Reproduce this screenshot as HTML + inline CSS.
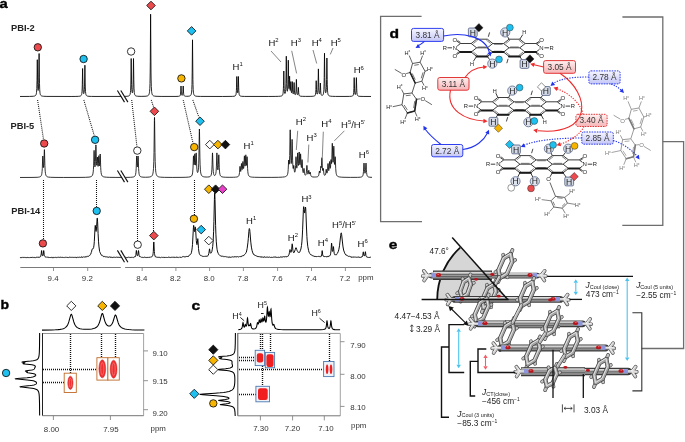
<!DOCTYPE html>
<html><head><meta charset="utf-8"><style>html,body{margin:0;padding:0;background:#fff;width:685px;height:442px;overflow:hidden}svg{display:block;will-change:transform}</style></head>
<body><svg width="685" height="442" viewBox="0 0 685 442" font-family="'Liberation Sans', sans-serif">
<defs>
<linearGradient id="gb" x1="0" y1="0" x2="0" y2="1"><stop offset="0" stop-color="#f6f6ff"/><stop offset="1" stop-color="#c4c6f6"/></linearGradient>
<linearGradient id="gr" x1="0" y1="0" x2="0" y2="1"><stop offset="0" stop-color="#fff0f0"/><stop offset="1" stop-color="#f6b4b6"/></linearGradient>
</defs>
<rect width="685" height="442" fill="#fff"/>
<text transform="translate(-0.6,8.4) scale(1.12,1)" font-size="13.2" font-weight="bold" fill="#000" stroke="#000" stroke-width="0.35">a</text>
<text x="11" y="31.2" font-size="9.3" font-weight="bold" fill="#222">PBI-2</text>
<text x="10.5" y="128.6" font-size="9.3" font-weight="bold" fill="#222">PBI-5</text>
<text x="11.3" y="214.0" font-size="9.3" font-weight="bold" fill="#222">PBI-14</text>
<path d="M20.00,96.48 L29.50,96.43 L33.30,96.26 L34.40,96.08 L35.10,95.82 L35.60,95.44 L36.00,94.82 L36.30,93.86 L36.50,92.65 L36.80,88.32 L37.00,80.45 L37.30,59.70 L37.70,84.42 L37.90,88.92 L38.00,89.90 L38.10,90.39 L38.20,90.47 L38.30,90.18 L38.40,89.47 L38.50,88.20 L38.70,82.75 L39.10,53.50 L39.40,77.83 L39.50,83.45 L39.70,89.40 L39.90,92.10 L40.10,93.51 L40.30,94.33 L40.50,94.85 L40.80,95.33 L41.20,95.70 L41.70,95.95 L42.40,96.14 L43.40,96.28 L46.90,96.42 L71.10,96.47 L75.90,96.43 L78.50,96.33 L79.90,96.16 L80.40,96.01 L80.80,95.80 L81.10,95.54 L81.30,95.27 L81.60,94.55 L81.80,93.64 L82.00,91.88 L82.20,88.01 L82.30,84.35 L82.60,68.50 L82.90,84.14 L83.10,89.99 L83.30,92.35 L83.40,92.95 L83.60,93.56 L83.70,93.64 L83.80,93.62 L83.90,93.47 L84.10,92.73 L84.20,92.03 L84.40,89.34 L84.50,86.79 L84.90,65.20 L85.20,82.95 L85.30,87.05 L85.50,91.38 L85.70,93.34 L85.90,94.36 L86.20,95.16 L86.40,95.46 L86.70,95.75 L87.10,95.97 L87.60,96.13 L89.00,96.32 L91.40,96.42 L96.00,96.46 L123.40,96.42 L127.10,96.27 L128.10,96.14 L128.80,95.93 L129.30,95.65 L129.60,95.35 L129.90,94.84 L130.10,94.28 L130.40,92.64 L130.60,90.25 L130.80,85.00 L130.90,80.02 L131.20,58.50 L131.60,84.65 L131.80,89.69 L132.00,91.80 L132.20,92.66 L132.30,92.81 L132.40,92.81 L132.50,92.66 L132.70,91.80 L132.90,89.69 L133.00,87.73 L133.20,79.77 L133.50,58.50 L133.80,80.02 L134.00,88.17 L134.30,92.63 L134.50,93.87 L134.70,94.59 L135.10,95.34 L135.60,95.77 L136.40,96.07 L137.70,96.26 L141.10,96.36 L145.00,96.29 L146.90,96.07 L147.50,95.90 L148.00,95.66 L148.50,95.23 L148.90,94.59 L149.20,93.73 L149.40,92.79 L149.60,91.27 L149.80,88.62 L150.00,83.47 L150.20,72.04 L150.30,61.19 L150.60,14.20 L151.00,72.04 L151.10,78.97 L151.30,86.50 L151.60,91.27 L151.80,92.79 L152.00,93.74 L152.30,94.60 L152.60,95.11 L153.10,95.60 L153.70,95.91 L154.60,96.14 L156.00,96.29 L161.10,96.43 L176.00,96.43 L178.30,96.34 L179.40,96.15 L179.80,95.94 L180.10,95.60 L180.30,95.13 L180.50,94.17 L180.70,91.93 L181.00,86.00 L181.40,93.18 L181.60,94.56 L181.70,94.90 L181.90,95.26 L182.00,95.34 L182.20,95.34 L182.40,95.12 L182.60,94.56 L182.70,94.02 L182.90,91.84 L183.20,86.00 L183.60,93.28 L183.80,94.72 L184.00,95.38 L184.20,95.71 L184.40,95.91 L184.70,96.08 L185.40,96.24 L186.70,96.30 L188.20,96.24 L189.20,96.11 L189.90,95.91 L190.40,95.61 L190.80,95.18 L191.10,94.58 L191.30,93.93 L191.60,92.11 L191.80,89.60 L192.00,84.41 L192.20,72.17 L192.50,39.80 L192.90,79.65 L193.00,84.42 L193.20,89.61 L193.40,92.11 L193.60,93.48 L193.80,94.30 L194.10,95.02 L194.40,95.44 L194.80,95.77 L195.40,96.03 L196.10,96.19 L197.10,96.31 L200.30,96.42 L222.70,96.48 L232.30,96.39 L234.00,96.26 L235.00,95.98 L235.50,95.59 L235.80,95.06 L236.00,94.40 L236.20,93.14 L236.40,90.38 L236.50,87.77 L236.80,76.50 L237.10,87.38 L237.20,89.83 L237.40,92.18 L237.50,92.63 L237.60,92.77 L237.70,92.63 L237.90,91.31 L238.00,89.83 L238.40,76.50 L238.70,87.77 L238.80,90.38 L239.00,93.14 L239.20,94.40 L239.40,95.06 L239.80,95.69 L240.30,96.02 L240.90,96.20 L241.70,96.31 L244.70,96.43 L268.80,96.46 L275.10,96.42 L278.60,96.33 L280.60,96.17 L281.70,95.89 L282.30,95.48 L282.70,94.83 L283.00,93.72 L283.20,92.12 L283.40,88.62 L283.50,85.31 L283.80,71.00 L284.10,85.06 L284.20,88.28 L284.40,91.58 L284.60,92.94 L284.70,93.27 L284.90,93.55 L285.10,93.42 L285.20,93.21 L285.50,91.73 L285.70,89.33 L285.90,83.88 L286.30,56.20 L286.70,83.49 L286.90,88.67 L287.10,90.71 L287.20,91.14 L287.30,91.30 L287.40,91.22 L287.50,90.87 L287.70,89.09 L287.90,84.49 L288.30,60.20 L288.60,79.64 L288.70,83.98 L288.90,88.02 L289.00,88.63 L289.10,88.53 L289.20,87.64 L289.60,76.20 L289.90,86.43 L290.10,89.89 L290.20,90.45 L290.30,90.44 L290.40,89.84 L290.80,81.60 L291.20,90.86 L291.30,91.88 L291.50,92.72 L291.60,92.74 L291.70,92.51 L291.90,90.95 L292.30,81.60 L292.70,91.29 L292.80,92.42 L293.00,93.54 L293.10,93.77 L293.20,93.86 L293.30,93.82 L293.50,93.27 L293.60,92.64 L293.80,89.93 L294.10,82.50 L294.40,90.07 L294.60,92.90 L294.80,94.06 L295.00,94.55 L295.10,94.65 L295.30,94.68 L295.50,94.44 L295.60,94.20 L295.80,93.25 L296.00,91.00 L296.40,79.40 L296.80,91.05 L297.00,93.32 L297.20,94.27 L297.40,94.67 L297.60,94.71 L297.70,94.60 L297.90,93.98 L298.00,93.31 L298.40,87.40 L298.70,92.42 L298.90,94.33 L299.20,95.39 L299.50,95.79 L299.80,95.99 L300.70,96.22 L302.30,96.34 L305.70,96.40 L310.10,96.38 L312.10,96.32 L313.40,96.21 L314.20,96.05 L314.80,95.75 L315.10,95.42 L315.40,94.73 L315.70,92.88 L315.90,89.53 L316.20,80.70 L316.50,89.30 L316.70,92.47 L316.80,93.23 L317.00,93.97 L317.10,94.10 L317.20,94.13 L317.30,94.07 L317.50,93.62 L317.70,92.55 L317.90,90.14 L318.00,87.89 L318.40,68.90 L318.80,87.84 L318.90,90.08 L319.10,92.45 L319.30,93.47 L319.50,93.81 L319.60,93.80 L319.70,93.64 L319.90,92.72 L320.10,90.13 L320.40,83.00 L320.70,90.36 L320.80,92.06 L321.00,93.85 L321.20,94.65 L321.50,95.18 L321.90,95.41 L322.40,95.36 L322.70,95.18 L323.00,94.84 L323.20,94.45 L323.40,93.83 L323.70,91.99 L323.90,89.30 L324.10,83.33 L324.20,77.68 L324.50,53.20 L324.80,77.48 L325.00,86.60 L325.10,88.86 L325.30,91.34 L325.50,92.43 L325.70,92.79 L325.80,92.76 L325.90,92.59 L326.10,91.70 L326.30,89.55 L326.40,87.56 L326.60,79.51 L326.90,58.00 L327.20,79.77 L327.30,84.80 L327.50,90.12 L327.70,92.54 L327.90,93.79 L328.20,94.78 L328.40,95.15 L328.70,95.51 L329.00,95.74 L329.40,95.93 L330.60,96.20 L332.40,96.34 L335.40,96.41 L344.00,96.45 L349.60,96.40 L351.70,96.23 L352.30,96.07 L352.70,95.85 L353.00,95.54 L353.30,94.92 L353.50,94.08 L353.70,92.35 L353.90,88.30 L354.20,77.60 L354.50,88.15 L354.70,92.10 L354.80,93.06 L355.00,94.09 L355.20,94.47 L355.30,94.52 L355.40,94.47 L355.60,94.09 L355.80,93.06 L356.00,90.57 L356.40,77.60 L356.70,88.30 L356.90,92.35 L357.20,94.57 L357.40,95.19 L357.60,95.55 L357.90,95.85 L358.40,96.11 L359.00,96.25 L359.90,96.35 L363.10,96.45 L371.00,96.48" fill="none" stroke="#000" stroke-width="0.85" stroke-linejoin="round"/>
<path d="M20.00,177.48 L32.00,177.43 L37.10,177.30 L38.60,177.16 L39.60,176.95 L40.30,176.67 L40.90,176.19 L41.30,175.57 L41.60,174.75 L41.90,173.22 L42.10,171.40 L42.30,168.29 L42.70,157.25 L42.80,156.00 L42.90,156.84 L43.30,165.92 L43.50,167.50 L43.60,167.47 L43.70,166.91 L43.90,163.96 L44.30,150.86 L44.40,149.60 L44.50,151.16 L44.90,165.72 L45.20,171.15 L45.50,173.63 L45.80,174.91 L46.00,175.44 L46.30,175.97 L46.60,176.31 L47.00,176.62 L47.60,176.89 L48.40,177.09 L50.70,177.31 L55.00,177.42 L63.70,177.46 L78.00,177.43 L85.30,177.33 L89.00,177.11 L90.10,176.93 L91.00,176.65 L91.50,176.39 L91.90,176.07 L92.20,175.71 L92.50,175.17 L92.90,173.88 L93.20,171.97 L93.40,169.68 L93.60,165.77 L94.00,151.92 L94.10,150.40 L94.20,151.54 L94.50,161.29 L94.70,165.33 L94.90,166.86 L95.00,166.89 L95.10,166.45 L95.30,164.00 L95.40,161.78 L95.80,146.50 L95.90,144.90 L96.00,146.42 L96.40,161.26 L96.50,163.31 L96.70,165.24 L96.80,165.27 L96.90,164.71 L97.00,163.54 L97.30,157.75 L97.40,157.00 L97.50,157.88 L97.90,165.43 L98.00,166.19 L98.10,166.38 L98.20,166.03 L98.40,163.55 L98.70,156.63 L98.80,155.70 L98.90,156.61 L99.30,164.92 L99.40,165.75 L99.50,165.96 L99.60,165.54 L99.70,164.48 L100.10,154.88 L100.20,154.00 L100.30,155.36 L100.70,167.28 L100.90,170.64 L101.10,172.62 L101.40,174.28 L101.70,175.19 L102.20,176.00 L102.80,176.48 L103.40,176.75 L104.10,176.94 L106.20,177.20 L109.80,177.35 L115.90,177.41 L125.30,177.41 L130.40,177.31 L132.90,177.08 L133.70,176.89 L134.30,176.62 L134.90,176.09 L135.30,175.38 L135.60,174.38 L135.90,172.47 L136.20,168.33 L136.60,157.26 L136.70,156.00 L136.80,156.83 L137.20,165.71 L137.30,166.65 L137.40,166.96 L137.50,166.65 L137.60,165.70 L138.00,156.83 L138.10,156.00 L138.20,157.26 L138.60,168.32 L138.80,171.43 L139.00,173.25 L139.20,174.37 L139.40,175.09 L139.70,175.77 L140.20,176.38 L140.80,176.75 L141.70,177.01 L142.90,177.16 L145.40,177.24 L148.00,177.16 L149.70,176.97 L150.90,176.63 L151.50,176.29 L152.00,175.79 L152.40,175.13 L152.70,174.34 L153.00,173.08 L153.20,171.77 L153.50,168.44 L153.80,161.55 L154.00,152.61 L154.40,120.62 L154.50,117.40 L154.60,120.62 L155.00,152.61 L155.20,161.56 L155.50,168.45 L155.70,170.90 L155.90,172.49 L156.10,173.58 L156.40,174.66 L156.80,175.52 L157.30,176.13 L157.90,176.55 L158.70,176.86 L159.60,177.05 L160.70,177.18 L164.30,177.35 L172.20,177.41 L182.00,177.37 L185.90,177.28 L188.40,177.11 L190.00,176.84 L191.00,176.44 L191.60,175.92 L192.10,175.03 L192.40,174.01 L192.70,172.09 L193.00,167.99 L193.40,157.10 L193.50,155.80 L193.60,156.49 L194.00,164.28 L194.10,164.85 L194.20,164.72 L194.40,162.28 L194.70,154.81 L194.80,153.80 L194.90,154.81 L195.30,163.96 L195.40,164.89 L195.50,165.15 L195.60,164.76 L195.70,163.69 L196.10,153.84 L196.20,152.90 L196.30,154.23 L196.70,166.11 L196.90,169.35 L197.20,171.68 L197.40,172.34 L197.50,172.49 L197.60,172.55 L197.70,172.52 L197.90,172.19 L198.00,171.87 L198.30,170.10 L198.50,167.80 L198.70,163.84 L198.90,156.83 L199.30,131.53 L199.40,129.00 L199.50,131.60 L199.90,157.16 L200.10,164.32 L200.40,169.86 L200.60,171.84 L200.80,173.13 L201.00,174.02 L201.30,174.90 L201.70,175.62 L202.10,176.06 L202.70,176.45 L203.40,176.71 L204.60,176.93 L206.10,177.04 L207.70,177.02 L209.00,176.88 L209.70,176.69 L210.30,176.36 L210.80,175.80 L211.10,175.19 L211.40,174.09 L211.60,172.83 L211.90,169.18 L212.10,164.44 L212.40,154.21 L212.50,152.90 L212.60,154.19 L213.00,167.01 L213.30,171.73 L213.50,173.29 L213.80,174.54 L214.10,175.16 L214.30,175.38 L214.50,175.49 L214.80,175.49 L215.00,175.40 L215.30,175.07 L215.50,174.68 L215.80,173.65 L216.10,171.55 L216.40,166.86 L216.80,154.23 L216.90,152.90 L217.00,154.05 L217.40,165.83 L217.50,167.56 L217.70,169.50 L217.80,169.89 L217.90,169.95 L218.00,169.68 L218.20,168.04 L218.40,164.37 L218.70,155.83 L218.80,154.80 L218.90,156.05 L219.30,167.77 L219.50,171.07 L219.70,172.99 L220.00,174.59 L220.40,175.64 L220.70,176.08 L221.00,176.37 L221.80,176.79 L223.20,177.09 L225.30,177.24 L229.10,177.31 L233.30,177.27 L235.40,177.17 L236.80,177.00 L237.80,176.70 L238.40,176.31 L238.70,175.93 L238.90,175.55 L239.10,174.97 L239.30,174.04 L239.50,172.47 L239.90,166.95 L240.00,166.30 L240.10,166.68 L240.50,170.92 L240.60,171.36 L240.70,171.49 L240.80,171.34 L241.00,170.12 L241.40,164.19 L241.50,163.50 L241.60,164.01 L242.00,169.07 L242.10,169.54 L242.20,169.61 L242.40,168.56 L242.80,162.22 L242.90,161.50 L243.00,162.10 L243.40,167.88 L243.50,168.44 L243.60,168.57 L243.70,168.26 L243.90,166.26 L244.30,156.86 L244.40,155.80 L244.50,156.65 L244.90,165.02 L245.00,165.87 L245.10,166.11 L245.20,165.76 L245.30,164.78 L245.70,155.79 L245.80,154.80 L245.90,155.76 L246.20,162.94 L246.40,165.28 L246.50,165.41 L246.60,164.86 L247.00,157.36 L247.10,156.70 L247.20,157.95 L247.60,168.41 L247.80,171.36 L248.00,173.11 L248.30,174.58 L248.60,175.39 L249.10,176.12 L249.70,176.56 L250.40,176.84 L251.40,177.05 L252.70,177.19 L254.50,177.28 L260.90,177.39 L271.90,177.38 L278.40,177.30 L282.30,177.14 L284.60,176.86 L285.40,176.65 L286.10,176.35 L286.70,175.89 L287.20,175.20 L287.50,174.47 L287.80,173.20 L288.00,171.76 L288.20,169.40 L288.60,161.12 L288.70,160.00 L288.80,160.24 L289.10,163.79 L289.20,164.21 L289.30,164.00 L289.40,163.13 L289.70,155.60 L290.10,132.23 L290.20,129.80 L290.30,132.12 L290.70,155.08 L291.00,162.42 L291.10,163.31 L291.20,163.60 L291.30,163.31 L291.50,160.83 L291.70,154.96 L292.00,141.10 L292.10,139.40 L292.20,141.40 L292.60,160.08 L292.90,166.59 L293.10,168.26 L293.20,168.55 L293.30,168.50 L293.40,168.10 L293.70,165.63 L293.80,165.40 L293.90,166.00 L294.30,170.63 L294.50,171.76 L294.70,172.19 L294.80,172.20 L294.90,172.09 L295.10,171.46 L295.40,168.97 L295.60,165.48 L295.90,157.76 L296.00,156.70 L296.10,157.54 L296.40,164.49 L296.60,167.29 L296.70,167.94 L296.80,168.17 L296.90,168.02 L297.00,167.46 L297.20,164.93 L297.60,154.09 L297.70,152.90 L297.80,153.90 L298.20,163.76 L298.30,164.92 L298.40,165.45 L298.50,165.41 L298.70,163.52 L299.10,153.13 L299.20,152.00 L299.30,153.08 L299.70,163.16 L299.80,164.28 L299.90,164.72 L300.00,164.50 L300.10,163.62 L300.50,154.70 L300.60,153.80 L300.70,154.95 L301.10,165.14 L301.30,167.29 L301.40,167.60 L301.50,167.43 L301.60,166.78 L302.00,160.20 L302.10,159.60 L302.20,160.57 L302.60,168.93 L302.90,171.83 L303.10,172.57 L303.20,172.69 L303.30,172.64 L303.40,172.42 L303.60,171.36 L303.90,168.61 L304.00,168.30 L304.10,168.77 L304.40,172.07 L304.60,173.57 L304.90,174.70 L305.20,175.14 L305.50,175.20 L305.80,174.90 L306.00,174.41 L306.20,173.52 L306.40,171.90 L306.80,166.00 L306.90,165.40 L307.00,165.98 L307.30,170.58 L307.50,172.64 L307.70,173.70 L307.90,174.13 L308.00,174.16 L308.10,174.06 L308.30,173.44 L308.70,170.50 L308.80,170.20 L308.90,170.52 L309.20,172.94 L309.40,173.88 L309.50,174.07 L309.60,174.10 L309.70,173.97 L310.10,172.15 L310.20,172.00 L310.30,172.31 L310.60,174.37 L310.80,175.32 L311.10,176.07 L311.30,176.35 L311.60,176.60 L312.20,176.84 L313.00,176.98 L314.20,177.04 L315.60,177.01 L316.60,176.91 L317.30,176.76 L317.80,176.55 L318.20,176.22 L318.50,175.77 L318.80,174.88 L319.40,171.00 L319.50,171.13 L319.80,172.62 L319.90,172.86 L320.00,172.90 L320.10,172.73 L320.30,171.72 L320.40,170.81 L320.80,166.30 L320.90,166.36 L321.10,167.50 L321.20,167.75 L321.30,167.50 L321.50,165.20 L321.80,158.53 L321.90,157.70 L322.00,158.71 L322.40,167.91 L322.60,170.05 L322.70,170.50 L322.80,170.60 L322.90,170.36 L323.20,168.46 L323.30,168.30 L323.40,168.85 L323.80,172.97 L324.00,174.10 L324.20,174.75 L324.40,175.12 L324.70,175.34 L325.00,175.29 L325.30,174.91 L325.60,173.91 L325.80,172.57 L326.10,169.62 L326.20,169.20 L326.30,169.48 L326.60,171.98 L326.80,172.94 L326.90,173.13 L327.00,173.15 L327.20,172.74 L327.50,170.61 L327.90,164.21 L328.00,163.50 L328.10,164.03 L328.50,169.59 L328.60,170.27 L328.70,170.61 L328.80,170.66 L329.00,169.86 L329.10,168.96 L329.50,162.27 L329.60,161.50 L329.70,162.06 L330.10,167.70 L330.20,168.23 L330.30,168.33 L330.50,167.25 L330.60,166.02 L330.90,160.52 L331.00,159.60 L331.10,159.94 L331.40,163.37 L331.50,163.67 L331.60,163.27 L331.80,160.12 L332.20,144.94 L332.30,143.30 L332.40,144.80 L332.80,159.37 L333.00,162.12 L333.10,162.28 L333.20,161.65 L333.30,160.20 L333.70,147.50 L333.80,146.20 L333.90,147.72 L334.30,161.42 L334.50,164.19 L334.60,164.48 L334.70,164.08 L335.10,157.27 L335.20,156.70 L335.30,157.96 L335.70,168.22 L336.00,172.10 L336.20,173.46 L336.50,174.67 L336.90,175.54 L337.40,176.13 L337.80,176.41 L338.30,176.64 L339.50,176.95 L341.30,177.16 L344.00,177.29 L350.70,177.39 L357.60,177.35 L360.30,177.20 L361.10,177.07 L361.70,176.88 L362.30,176.49 L362.70,175.93 L363.00,175.11 L363.20,174.16 L363.50,171.34 L363.90,163.80 L364.00,163.00 L364.10,163.68 L364.40,169.29 L364.60,171.75 L364.70,172.48 L364.90,173.22 L365.00,173.30 L365.10,173.22 L365.20,172.95 L365.50,170.71 L365.90,163.68 L366.00,163.00 L366.10,163.80 L366.40,169.78 L366.60,172.55 L366.90,174.70 L367.20,175.72 L367.40,176.11 L367.70,176.49 L368.10,176.79 L368.50,176.97 L369.80,177.23 L372.00,177.37" fill="none" stroke="#000" stroke-width="0.8" stroke-linejoin="round"/>
<path d="M20.00,257.49 L20.20,257.56 L20.30,257.71 L20.40,257.68 L20.60,257.74 L20.70,257.48 L20.90,257.33 L21.10,257.32 L21.20,257.63 L21.30,257.67 L21.50,257.61 L22.00,257.28 L22.10,257.38 L22.40,257.31 L22.50,257.37 L22.70,257.27 L22.90,257.52 L23.10,257.39 L23.20,257.45 L23.30,257.34 L23.40,257.52 L23.50,257.51 L23.70,257.74 L23.80,257.77 L23.90,257.52 L24.00,257.62 L24.10,257.63 L24.20,257.51 L24.40,257.48 L24.70,257.24 L24.80,257.25 L24.90,257.41 L25.10,257.39 L25.30,257.53 L25.40,257.45 L25.50,257.66 L25.70,257.60 L25.90,257.68 L26.00,257.57 L26.10,257.56 L26.20,257.74 L26.40,257.64 L26.50,257.49 L26.60,257.70 L26.80,257.50 L26.90,257.60 L27.20,257.44 L27.30,257.53 L27.40,257.39 L27.50,257.51 L27.60,257.45 L27.70,257.59 L27.80,257.40 L27.90,257.45 L28.00,257.39 L28.20,257.14 L28.50,257.52 L28.60,257.50 L28.70,257.63 L29.00,257.52 L29.30,257.64 L29.60,257.54 L29.80,257.34 L29.90,257.31 L30.00,257.42 L30.20,257.48 L30.50,257.42 L30.60,257.46 L30.70,257.23 L30.90,257.02 L31.30,257.53 L31.40,257.79 L31.60,257.47 L31.80,257.62 L31.90,257.52 L32.10,257.63 L32.20,257.39 L32.60,257.14 L32.70,257.23 L32.80,257.12 L32.90,257.25 L33.00,257.27 L33.10,257.45 L33.20,257.40 L33.30,257.45 L33.50,257.41 L33.60,257.32 L33.80,257.58 L33.90,257.53 L34.00,257.32 L34.30,257.38 L34.50,257.64 L34.90,257.31 L35.00,257.34 L35.10,257.50 L35.50,257.65 L36.00,257.48 L36.30,257.24 L36.40,257.35 L36.50,257.28 L36.80,257.46 L36.90,257.23 L37.10,257.17 L37.20,257.06 L37.40,257.22 L37.60,257.28 L37.80,257.14 L37.90,256.97 L38.10,257.01 L38.20,257.14 L38.30,257.15 L38.40,257.34 L38.60,257.27 L38.70,257.15 L38.80,257.24 L38.90,257.11 L39.10,257.22 L39.20,257.37 L39.40,257.43 L39.70,257.06 L39.80,256.83 L40.10,256.76 L40.20,256.85 L40.40,256.88 L40.60,256.56 L40.80,255.98 L41.20,253.97 L41.50,250.89 L41.60,250.49 L41.70,250.87 L42.00,254.01 L42.20,254.99 L42.40,255.56 L42.50,255.63 L42.60,255.85 L42.70,255.90 L42.80,255.73 L42.90,255.71 L43.00,255.48 L43.30,253.93 L43.60,250.84 L43.70,250.52 L43.80,250.86 L44.20,254.63 L44.30,255.25 L44.50,255.93 L44.70,256.32 L45.10,256.70 L45.40,256.81 L45.50,257.09 L45.60,256.96 L46.10,257.31 L46.30,257.22 L46.50,256.99 L46.80,257.08 L46.90,257.18 L47.00,257.18 L47.10,257.10 L47.30,257.22 L47.50,257.09 L47.70,257.23 L47.90,257.19 L48.00,257.45 L48.20,257.33 L48.40,257.36 L48.50,257.20 L48.80,257.39 L48.90,257.54 L49.00,257.45 L49.10,257.47 L49.40,257.15 L49.70,257.55 L49.80,257.53 L50.00,257.78 L50.10,257.60 L50.20,257.60 L50.30,257.74 L50.40,257.70 L50.50,257.55 L50.60,257.61 L50.80,257.28 L50.90,257.23 L51.00,257.37 L51.30,257.54 L51.70,257.32 L52.10,257.67 L52.40,257.81 L52.80,257.20 L53.10,257.13 L53.20,257.39 L53.40,257.38 L53.50,257.65 L53.90,257.58 L54.10,257.40 L54.30,257.52 L54.50,257.28 L54.60,257.40 L54.80,257.27 L54.90,257.43 L55.10,257.35 L55.20,257.19 L55.30,257.27 L55.50,257.27 L55.70,257.48 L55.80,257.45 L55.90,257.31 L56.00,257.40 L56.10,257.38 L56.30,257.65 L56.60,257.67 L56.80,257.47 L57.00,257.60 L57.20,257.41 L57.40,257.45 L57.50,257.25 L58.10,257.46 L58.40,257.19 L58.60,257.18 L58.70,257.38 L59.00,257.49 L59.20,257.34 L59.40,257.51 L59.50,257.43 L59.80,257.52 L60.20,257.46 L60.40,257.15 L60.60,257.16 L60.70,257.03 L61.00,257.26 L61.10,257.21 L61.20,257.28 L61.30,257.17 L61.40,257.37 L61.50,257.26 L61.70,257.34 L61.80,257.45 L61.90,257.25 L62.00,257.26 L62.10,257.37 L62.80,257.24 L63.00,257.50 L63.10,257.50 L63.30,257.71 L63.50,257.50 L63.60,257.58 L63.70,257.45 L63.80,257.53 L63.90,257.50 L64.00,257.64 L64.20,257.67 L64.30,257.57 L64.40,257.66 L64.60,257.46 L64.80,257.48 L64.90,257.35 L65.20,257.47 L65.30,257.39 L65.40,257.39 L65.50,257.25 L65.70,257.19 L65.90,257.31 L66.00,257.34 L66.10,257.29 L66.30,257.39 L66.50,257.31 L66.60,257.18 L66.80,257.13 L67.20,257.63 L67.40,257.53 L67.80,257.55 L67.90,257.37 L68.10,257.56 L68.20,257.43 L68.40,257.65 L68.60,257.48 L68.70,257.53 L68.80,257.47 L69.10,257.11 L69.40,256.97 L69.60,257.22 L69.80,257.28 L70.00,257.30 L70.10,257.17 L70.20,257.21 L70.30,257.10 L70.80,257.40 L71.00,257.37 L71.10,257.26 L71.50,257.24 L71.60,257.46 L71.80,257.48 L71.90,257.43 L72.00,257.48 L72.20,257.44 L72.70,257.17 L72.90,257.39 L73.30,257.48 L73.50,257.24 L73.70,257.24 L73.80,257.14 L73.90,257.16 L74.00,257.38 L74.10,257.25 L74.20,257.31 L74.30,257.24 L74.40,257.29 L74.50,257.21 L74.60,257.33 L74.70,257.23 L74.80,257.38 L75.00,257.42 L75.10,257.53 L75.60,257.20 L75.70,257.29 L75.90,257.14 L76.10,257.54 L76.40,257.75 L76.60,257.33 L76.80,257.37 L77.00,257.23 L77.30,257.20 L77.40,257.29 L77.60,257.07 L77.70,257.08 L77.80,257.27 L77.90,257.26 L78.10,257.43 L78.30,257.20 L78.40,257.22 L78.50,257.16 L78.60,257.31 L78.70,257.30 L78.90,257.15 L79.00,257.19 L79.10,257.05 L79.60,257.23 L79.80,257.14 L80.30,257.36 L80.50,257.15 L80.60,257.15 L80.70,257.29 L80.80,257.21 L80.90,257.24 L81.00,257.38 L81.20,257.06 L81.40,257.06 L81.50,256.77 L81.60,256.76 L81.70,256.93 L81.90,256.99 L82.10,257.42 L82.20,257.30 L82.50,257.30 L82.60,257.07 L82.80,257.14 L83.00,257.00 L83.10,257.07 L83.30,256.87 L83.80,257.01 L83.90,256.94 L84.00,257.12 L84.40,257.07 L84.60,256.90 L84.80,257.15 L85.10,257.24 L85.30,257.06 L85.40,257.05 L85.60,256.73 L85.80,256.60 L85.90,256.61 L86.20,257.11 L86.30,257.13 L86.50,256.80 L86.80,256.49 L87.10,256.66 L87.50,256.07 L87.60,256.03 L87.80,256.14 L87.90,256.05 L88.00,256.22 L88.10,256.19 L88.40,256.32 L88.70,256.20 L89.20,255.76 L89.30,255.60 L89.50,255.56 L89.60,255.44 L89.80,255.44 L89.90,255.34 L90.10,255.03 L90.20,254.71 L90.30,254.69 L90.70,254.21 L91.20,252.86 L91.30,252.29 L91.40,252.18 L91.50,251.86 L92.00,249.59 L92.10,249.52 L92.40,248.91 L92.60,248.83 L92.80,248.92 L93.00,248.91 L93.40,248.28 L93.60,247.70 L94.00,245.08 L94.30,241.66 L95.00,227.96 L95.20,225.59 L95.30,225.32 L95.40,225.70 L95.90,230.97 L96.00,231.45 L96.10,231.42 L96.20,231.12 L96.30,230.50 L96.60,226.79 L97.10,218.82 L97.20,218.10 L97.30,218.01 L97.40,218.62 L97.60,221.91 L98.10,233.62 L98.50,241.18 L98.90,246.04 L99.60,251.33 L99.70,251.74 L100.20,252.78 L100.30,253.14 L100.90,254.13 L101.20,254.91 L101.30,254.94 L101.40,255.19 L101.60,255.35 L102.20,255.19 L102.40,255.57 L102.60,255.74 L102.70,256.02 L103.10,256.44 L103.30,256.25 L103.40,256.29 L103.50,256.42 L103.60,256.42 L103.70,256.69 L103.80,256.78 L103.90,256.70 L104.10,256.70 L104.20,256.56 L104.60,256.29 L104.90,256.68 L105.00,256.65 L105.10,256.81 L105.30,256.90 L105.40,256.81 L105.50,256.97 L105.80,256.88 L105.90,256.99 L106.00,256.90 L106.30,256.81 L106.40,256.85 L106.50,257.02 L106.80,257.07 L107.00,256.82 L107.10,256.93 L107.50,257.08 L107.60,256.98 L107.70,257.09 L107.80,257.05 L107.90,257.14 L108.00,257.10 L108.10,257.16 L108.20,257.03 L108.70,257.18 L108.80,257.32 L108.90,257.33 L109.10,257.07 L109.20,257.19 L109.40,256.90 L109.50,256.88 L109.60,256.97 L109.70,256.85 L109.80,256.89 L109.90,256.84 L110.00,256.99 L110.10,256.93 L110.30,257.26 L110.40,257.34 L110.60,257.36 L110.70,257.35 L110.80,257.14 L111.10,257.22 L111.20,257.09 L111.30,257.25 L111.40,257.22 L111.50,257.00 L111.60,256.96 L111.70,257.02 L111.90,257.01 L112.10,257.54 L112.30,257.62 L112.60,257.29 L112.70,257.33 L112.80,257.22 L112.90,257.40 L113.00,257.45 L113.20,257.31 L113.30,257.34 L113.40,257.27 L113.60,257.02 L113.70,257.14 L113.80,256.97 L114.00,256.98 L114.10,257.15 L114.20,257.02 L114.30,257.18 L114.50,257.21 L114.60,257.12 L114.80,257.24 L115.00,257.21 L115.10,257.28 L115.30,257.24 L115.50,257.51 L115.60,257.37 L115.90,257.34 L116.00,257.17 L116.50,257.09 L116.70,257.19 L116.90,257.06 L117.00,257.16 L117.20,257.19 L117.30,257.31 L117.50,257.33 L117.60,257.42 L117.70,257.24 L117.80,257.21 L118.00,257.35 L118.10,257.23 L118.20,257.31 L118.40,257.18 L118.70,257.41 L119.00,257.50 L119.10,257.25 L119.40,257.24 L119.50,257.04 L119.70,257.38 L119.80,257.48 L119.90,257.49 L120.10,257.71 L120.20,257.67 L120.30,257.51 L120.50,257.53 L120.60,257.47 L120.70,257.31 L120.90,257.53 L121.30,257.23 L121.50,257.24 L121.70,257.50 L121.80,257.42 L122.00,257.44 L122.10,257.35 L122.70,257.33 L122.80,257.53 L123.00,257.64 L123.40,257.39 L123.50,257.23 L123.80,257.14 L124.40,257.41 L124.60,257.68 L124.70,257.70 L124.90,257.47 L125.20,257.33 L125.40,257.57 L125.60,257.30 L125.80,257.27 L125.90,257.12 L126.30,257.43 L126.60,257.56 L127.00,257.18 L127.10,257.18 L127.40,257.50 L127.50,257.73 L127.70,257.55 L127.90,257.57 L128.00,257.34 L128.10,257.33 L128.30,257.14 L128.40,257.12 L128.70,257.19 L128.90,257.37 L129.00,257.35 L129.20,257.43 L129.40,257.27 L129.50,257.31 L129.70,257.17 L129.90,257.44 L130.00,257.36 L130.10,257.39 L130.20,257.59 L130.40,257.48 L130.50,257.64 L130.60,257.64 L130.80,257.35 L130.90,257.43 L131.10,257.21 L131.20,257.27 L131.30,257.21 L131.40,257.06 L131.50,257.06 L131.80,257.37 L132.00,257.35 L132.30,256.98 L132.60,257.28 L132.90,257.42 L133.00,257.37 L133.30,257.57 L133.70,257.18 L133.80,257.17 L133.90,257.29 L134.20,257.10 L134.40,256.76 L134.50,256.79 L134.70,257.05 L134.80,256.98 L134.90,257.01 L135.40,256.33 L135.50,256.36 L135.70,255.80 L135.90,254.70 L136.30,250.71 L136.40,250.39 L136.50,250.83 L136.90,254.27 L137.20,255.44 L137.50,255.73 L137.90,254.87 L138.10,253.70 L138.40,250.87 L138.50,250.50 L138.60,250.84 L139.00,254.78 L139.20,255.87 L139.40,256.44 L139.60,256.49 L139.80,256.40 L139.90,256.50 L140.10,256.53 L140.30,256.84 L140.40,256.78 L140.60,256.95 L140.80,256.91 L141.10,257.14 L141.20,257.13 L141.30,257.31 L141.60,257.17 L141.70,257.22 L141.80,257.08 L142.10,257.39 L142.40,257.39 L142.50,257.26 L142.80,257.47 L142.90,257.33 L143.10,257.49 L143.30,257.41 L143.40,257.57 L143.50,257.60 L143.60,257.50 L143.90,257.51 L144.00,257.28 L144.10,257.23 L144.30,257.26 L144.60,257.07 L144.90,257.19 L145.00,257.38 L145.10,257.41 L145.20,257.43 L145.30,257.29 L145.60,257.23 L145.80,257.50 L146.00,257.44 L146.10,257.51 L146.20,257.34 L146.30,257.32 L146.60,257.60 L146.70,257.53 L146.90,257.59 L147.10,257.19 L147.20,257.32 L147.40,257.24 L147.50,257.41 L147.60,257.44 L147.90,257.28 L148.20,256.97 L148.30,257.10 L148.40,257.09 L148.60,257.44 L148.70,257.49 L148.80,257.42 L148.90,257.50 L149.10,257.28 L149.20,257.39 L149.40,257.20 L149.60,257.29 L149.80,257.29 L150.00,257.20 L150.20,256.88 L150.50,256.99 L150.70,257.18 L150.80,257.10 L150.90,257.19 L151.20,256.90 L151.30,256.97 L151.60,256.73 L151.70,256.81 L151.90,256.54 L152.00,256.57 L152.10,256.52 L152.20,256.19 L152.50,255.95 L152.70,255.64 L152.90,254.98 L153.10,253.69 L153.30,251.57 L153.70,242.97 L153.80,241.97 L153.90,242.95 L154.30,251.52 L154.50,253.57 L154.60,254.32 L155.00,255.95 L155.50,256.81 L155.70,256.99 L155.80,256.96 L155.90,257.07 L156.00,256.97 L156.10,257.04 L156.20,256.97 L156.30,257.11 L156.40,257.01 L156.70,257.20 L156.80,257.15 L157.00,257.29 L157.10,257.24 L157.40,257.34 L157.80,257.25 L157.90,257.10 L158.00,257.07 L158.40,257.38 L158.60,257.25 L158.70,257.31 L158.80,257.07 L159.00,257.15 L159.20,257.08 L159.30,257.26 L159.40,257.25 L159.50,257.44 L159.60,257.40 L159.80,257.54 L159.90,257.53 L160.00,257.36 L160.10,257.55 L160.20,257.46 L160.30,257.47 L160.50,257.67 L160.70,257.63 L161.10,257.25 L161.30,257.35 L161.40,257.26 L161.50,257.32 L161.80,257.22 L161.90,257.31 L162.40,257.47 L162.70,257.29 L162.90,257.27 L163.00,257.28 L163.10,257.45 L163.40,257.23 L163.50,257.35 L163.70,257.34 L163.90,257.67 L164.10,257.65 L164.20,257.84 L164.80,257.17 L165.00,257.16 L165.10,257.30 L165.20,257.25 L165.30,257.43 L165.50,257.50 L165.70,257.48 L165.80,257.32 L166.10,257.26 L166.30,257.48 L166.40,257.51 L166.70,257.33 L166.90,257.30 L167.20,257.69 L167.30,257.63 L167.40,257.72 L167.60,257.46 L167.80,257.42 L167.90,257.24 L168.00,257.42 L168.30,257.13 L168.40,257.21 L168.50,257.17 L168.90,257.28 L169.00,257.12 L169.20,257.13 L169.30,257.25 L169.40,257.23 L169.50,257.37 L169.80,257.31 L169.90,257.37 L170.00,257.30 L170.20,257.44 L170.40,257.20 L170.50,257.46 L170.60,257.47 L170.70,257.37 L170.90,257.48 L171.00,257.18 L171.30,257.33 L171.40,257.29 L171.50,257.34 L171.80,257.11 L172.00,257.23 L172.50,257.18 L172.60,257.30 L172.70,257.29 L172.80,257.39 L173.40,257.07 L173.60,257.38 L173.70,257.28 L173.80,257.23 L173.90,257.29 L174.10,257.14 L174.20,257.35 L174.40,257.52 L174.60,257.46 L174.80,257.23 L174.90,257.00 L175.00,257.08 L175.10,256.95 L175.40,257.32 L175.50,257.21 L175.60,257.32 L175.80,257.16 L176.00,257.38 L176.10,257.23 L176.30,257.24 L176.40,257.10 L176.60,257.15 L176.80,256.96 L177.00,256.91 L177.40,257.51 L177.60,257.26 L177.70,257.25 L177.80,257.12 L178.30,257.53 L178.40,257.44 L178.70,257.36 L179.10,257.41 L179.60,256.99 L179.90,257.29 L180.10,257.16 L180.20,257.28 L180.30,257.21 L180.40,257.23 L180.60,257.49 L180.70,257.31 L180.90,257.26 L181.20,257.44 L181.30,257.33 L181.40,257.44 L181.70,257.15 L182.10,257.02 L182.20,256.85 L182.30,256.85 L182.40,256.70 L182.70,256.82 L182.90,256.81 L183.20,256.55 L183.30,256.64 L183.50,256.61 L183.70,256.89 L183.80,256.77 L183.90,256.97 L184.10,257.12 L184.30,257.06 L184.50,256.84 L184.60,256.81 L184.70,256.95 L185.00,256.99 L185.20,256.72 L185.30,256.75 L185.40,256.91 L185.50,256.88 L185.70,257.00 L185.90,256.84 L186.00,256.90 L186.50,256.33 L186.60,256.43 L186.70,256.30 L187.10,256.39 L187.20,256.70 L187.30,256.80 L187.50,256.57 L187.60,256.55 L187.80,256.15 L187.90,256.29 L188.00,256.24 L188.20,256.26 L188.30,256.46 L188.40,256.24 L188.50,256.32 L188.60,256.09 L188.70,256.06 L188.80,255.79 L188.90,255.84 L189.10,255.68 L189.30,255.25 L189.50,255.09 L189.80,255.06 L189.90,254.90 L190.10,254.89 L190.20,254.70 L190.40,254.56 L190.50,254.29 L190.70,254.19 L191.00,253.81 L191.50,252.19 L191.90,250.10 L192.20,247.86 L192.50,244.56 L193.40,227.79 L193.60,225.49 L193.70,225.35 L193.90,226.53 L194.30,230.78 L194.50,231.58 L194.60,231.63 L194.70,231.27 L195.20,227.13 L195.30,226.89 L195.40,227.13 L195.50,227.74 L196.30,240.52 L196.60,243.45 L196.80,244.38 L197.00,244.65 L197.20,243.93 L197.60,239.64 L197.70,238.89 L197.80,238.65 L198.00,240.74 L198.50,248.59 L198.80,250.99 L199.20,253.20 L199.50,254.25 L199.70,254.36 L199.90,254.76 L200.00,254.78 L200.10,255.10 L200.20,255.22 L200.40,255.27 L200.60,255.49 L200.70,255.73 L201.00,256.03 L201.30,255.86 L201.40,255.92 L201.60,255.74 L201.80,255.80 L201.90,255.68 L202.30,256.07 L202.40,256.26 L202.60,256.23 L202.70,256.31 L202.90,256.20 L203.10,256.43 L203.20,256.40 L203.30,256.54 L203.40,256.57 L203.50,256.57 L203.60,256.38 L203.80,256.18 L203.90,256.19 L204.00,256.05 L204.30,256.13 L204.70,256.56 L204.80,256.43 L205.00,256.44 L205.20,256.30 L205.40,256.26 L205.70,256.31 L205.80,256.44 L206.00,256.24 L206.20,256.34 L206.40,256.00 L206.60,255.95 L206.70,255.95 L206.90,256.25 L207.00,256.31 L207.20,256.00 L207.40,255.88 L207.60,255.82 L207.70,255.91 L208.00,255.61 L208.10,255.69 L208.20,255.35 L208.30,255.22 L208.90,253.19 L209.50,248.84 L209.60,249.16 L210.00,251.80 L210.10,252.26 L210.40,253.03 L210.50,253.12 L210.60,253.09 L210.70,253.22 L210.80,253.17 L211.00,252.83 L211.10,252.84 L211.30,252.59 L211.40,252.62 L211.50,252.54 L211.90,251.31 L212.30,249.19 L212.70,246.48 L213.10,242.06 L213.60,231.71 L213.90,221.66 L214.40,199.51 L214.60,193.85 L214.70,193.05 L214.80,193.82 L215.00,199.40 L215.60,225.34 L215.90,234.26 L216.30,241.84 L216.90,248.08 L217.10,249.52 L217.40,251.02 L218.10,253.28 L218.50,253.72 L218.70,254.26 L218.80,254.31 L218.90,254.51 L219.40,255.00 L219.50,255.17 L219.70,255.30 L219.90,255.62 L220.00,255.59 L220.20,255.76 L220.40,255.72 L220.50,255.89 L220.60,255.92 L220.80,255.82 L220.90,255.94 L221.00,255.84 L221.20,255.94 L221.30,256.12 L221.40,256.10 L221.60,256.27 L221.70,256.49 L222.00,256.61 L222.30,256.33 L222.70,256.32 L223.10,256.63 L223.40,256.68 L223.70,256.29 L223.80,256.36 L223.90,256.27 L224.20,256.49 L224.40,256.49 L224.70,256.67 L225.00,256.65 L225.20,256.52 L225.40,256.74 L225.60,256.79 L225.70,256.97 L225.80,256.84 L225.90,256.83 L226.00,256.95 L226.10,256.82 L226.40,256.97 L226.50,256.90 L226.60,257.00 L226.90,256.95 L227.00,257.04 L227.20,256.93 L227.40,256.99 L227.50,256.95 L227.70,257.07 L227.80,256.97 L228.00,257.24 L228.30,257.46 L228.50,257.14 L228.60,257.10 L228.70,256.88 L228.90,256.68 L229.10,256.65 L229.30,256.81 L229.50,257.11 L229.60,257.16 L229.70,257.36 L229.90,257.27 L230.00,257.14 L230.10,257.16 L230.20,257.05 L230.70,257.26 L230.90,257.05 L231.00,257.06 L231.10,257.19 L231.20,257.02 L231.40,257.03 L231.50,257.11 L231.60,256.96 L232.00,256.83 L232.30,256.94 L232.50,256.74 L232.60,256.79 L232.70,256.76 L232.90,257.01 L233.10,256.98 L233.20,257.06 L233.40,257.06 L233.50,257.16 L233.70,256.93 L233.80,256.88 L233.90,256.98 L234.00,256.79 L234.20,256.83 L234.40,256.68 L234.50,256.86 L234.70,256.83 L235.10,257.22 L235.20,257.18 L235.50,256.63 L235.70,256.62 L235.90,256.86 L236.00,256.75 L236.40,256.74 L236.70,257.03 L236.80,257.05 L237.00,256.92 L237.30,256.58 L237.40,256.69 L237.60,256.68 L237.80,256.96 L237.90,256.94 L238.10,257.14 L238.30,256.99 L238.70,256.93 L239.10,256.70 L239.20,256.58 L239.40,256.59 L239.50,256.74 L239.60,256.65 L239.90,256.62 L240.00,256.47 L240.20,256.60 L240.40,256.58 L240.60,256.68 L240.70,256.46 L240.80,256.40 L241.00,256.39 L241.20,256.70 L241.30,256.74 L241.40,256.60 L241.50,256.69 L241.70,256.27 L241.80,256.18 L241.90,256.21 L242.00,255.95 L242.10,255.88 L242.20,256.00 L242.40,255.90 L242.50,256.02 L242.60,255.87 L242.80,256.00 L242.90,255.80 L243.00,255.72 L243.10,255.74 L243.30,255.56 L243.40,255.78 L243.60,255.66 L243.90,255.03 L244.30,254.73 L244.40,254.78 L245.10,254.18 L245.50,253.57 L245.60,253.51 L245.90,252.86 L246.00,252.83 L246.20,252.51 L246.40,252.05 L247.20,248.25 L247.90,242.81 L248.30,238.69 L248.90,231.24 L249.10,229.36 L249.30,228.50 L249.50,228.72 L249.70,229.62 L249.90,231.34 L250.80,242.17 L251.40,247.10 L252.10,250.64 L252.80,252.90 L252.90,252.94 L253.40,254.19 L253.50,254.23 L253.70,254.60 L253.80,254.49 L253.90,254.50 L254.00,254.66 L254.10,254.65 L254.20,254.74 L254.40,255.03 L254.50,254.94 L254.90,255.20 L255.10,255.70 L255.20,255.63 L255.40,255.88 L255.60,255.65 L255.70,255.87 L255.80,255.72 L256.00,255.74 L256.10,255.85 L256.20,255.84 L256.30,255.93 L256.40,255.90 L256.50,256.10 L256.60,256.02 L256.80,256.05 L257.00,256.26 L257.10,256.51 L257.30,256.58 L257.50,256.34 L257.60,256.30 L257.80,256.47 L258.00,256.78 L258.30,256.39 L258.40,256.49 L258.50,256.35 L258.80,256.88 L259.10,256.87 L259.20,256.69 L259.30,256.67 L259.70,256.81 L259.80,256.70 L260.00,256.64 L260.30,256.84 L260.40,256.82 L260.60,256.91 L261.00,257.19 L261.10,256.93 L261.20,256.87 L261.40,256.94 L261.50,256.79 L261.60,257.17 L261.70,257.22 L261.90,257.11 L262.00,257.18 L262.10,257.06 L262.50,257.10 L262.70,256.95 L263.10,257.09 L263.20,257.28 L263.40,257.46 L263.60,257.46 L263.70,257.38 L263.90,256.88 L264.10,256.92 L264.20,256.80 L264.30,257.06 L264.50,257.01 L264.60,256.87 L264.70,257.02 L264.80,256.90 L264.90,257.12 L265.10,257.20 L265.20,257.10 L265.30,257.30 L265.40,257.13 L265.50,257.09 L265.70,257.27 L265.80,257.16 L265.90,257.25 L266.10,257.19 L266.30,257.00 L266.50,257.11 L266.60,256.99 L266.70,257.15 L266.90,257.15 L267.10,257.36 L267.50,256.97 L267.60,257.10 L268.00,257.25 L268.20,257.18 L268.40,257.35 L268.60,257.34 L268.70,257.42 L268.90,257.17 L269.00,257.16 L269.10,256.97 L269.30,257.14 L269.50,256.95 L269.80,256.89 L270.10,257.32 L270.30,257.40 L270.40,257.34 L270.50,257.38 L270.70,257.22 L270.90,257.55 L271.00,257.40 L271.20,257.39 L271.40,257.25 L271.60,257.34 L271.90,257.25 L272.00,257.40 L272.10,257.36 L272.20,257.52 L272.30,257.51 L272.40,257.35 L272.60,257.31 L272.70,257.19 L272.80,257.17 L272.90,257.28 L273.40,256.98 L273.60,257.07 L273.70,257.25 L273.90,257.32 L274.00,257.16 L274.40,256.99 L274.60,257.16 L274.70,257.08 L274.90,257.12 L275.10,256.86 L275.70,257.21 L275.80,256.96 L275.90,256.88 L276.20,257.26 L276.40,257.36 L276.50,257.28 L276.60,257.35 L276.70,257.24 L276.80,257.33 L277.00,257.37 L277.20,257.14 L277.40,257.28 L277.60,257.27 L277.70,257.42 L278.10,257.30 L278.20,257.39 L278.40,257.04 L278.60,257.20 L278.70,257.03 L279.00,257.06 L279.30,257.27 L279.40,257.48 L279.70,257.11 L279.80,257.23 L279.90,257.14 L280.10,257.22 L280.40,257.01 L280.50,257.05 L280.60,256.89 L280.70,256.86 L280.90,256.97 L281.00,256.90 L281.10,257.09 L281.20,257.14 L281.30,257.04 L281.50,257.13 L281.60,256.99 L281.80,257.14 L281.90,256.96 L282.10,257.06 L282.30,256.85 L282.40,257.09 L282.50,257.04 L282.80,257.16 L282.90,256.99 L283.20,256.82 L283.30,256.77 L283.40,256.93 L283.50,256.78 L283.70,256.84 L283.80,257.03 L283.90,256.93 L284.00,257.16 L284.50,256.74 L284.80,257.02 L284.90,256.93 L285.10,256.96 L285.40,256.73 L285.50,256.76 L285.70,256.48 L285.90,256.64 L286.00,256.55 L286.20,256.73 L286.40,256.73 L287.00,256.60 L287.20,256.25 L287.40,256.25 L287.50,256.36 L287.70,256.40 L288.00,256.17 L288.10,256.22 L288.20,256.13 L288.60,255.22 L288.80,255.10 L289.00,254.57 L289.40,252.72 L289.80,250.26 L290.00,249.55 L290.30,250.30 L290.50,251.48 L290.80,252.36 L290.90,252.29 L291.00,252.39 L291.20,252.07 L291.60,249.81 L292.00,245.12 L292.10,244.15 L292.20,243.80 L292.40,244.74 L292.90,250.24 L293.20,251.65 L293.50,252.58 L293.90,252.68 L294.00,252.47 L294.10,252.59 L294.20,252.44 L295.30,249.45 L295.40,249.34 L295.70,248.03 L295.90,247.73 L296.00,247.68 L296.10,247.72 L296.30,248.04 L296.70,249.40 L297.20,250.75 L297.50,251.36 L297.70,251.62 L297.90,252.11 L298.00,252.08 L298.10,252.21 L298.40,252.17 L298.60,252.53 L298.80,252.60 L298.90,252.60 L299.00,252.47 L299.20,252.39 L299.30,252.44 L299.50,252.41 L299.60,252.08 L299.70,252.07 L300.10,251.27 L300.40,250.12 L300.50,250.14 L300.90,249.03 L301.50,245.47 L301.90,241.93 L302.30,235.98 L302.60,229.88 L303.40,209.46 L303.50,207.99 L303.70,206.65 L303.90,207.66 L304.40,212.21 L304.60,213.03 L304.70,212.98 L304.80,212.45 L305.40,207.18 L305.50,207.06 L305.70,208.16 L305.90,211.75 L306.50,228.01 L306.90,236.58 L307.20,240.98 L307.80,246.68 L308.60,250.53 L309.00,252.13 L309.40,252.74 L309.60,253.24 L310.00,253.60 L310.40,254.47 L310.60,254.48 L311.10,255.04 L311.20,255.08 L311.30,255.05 L311.40,254.92 L311.50,255.00 L311.60,255.00 L312.00,255.38 L312.20,255.41 L312.40,255.83 L312.80,255.68 L312.90,255.69 L313.10,255.86 L313.20,256.06 L313.60,256.09 L313.70,255.95 L313.90,255.87 L314.10,256.15 L314.30,256.22 L314.50,256.50 L314.60,256.38 L314.90,256.22 L315.00,256.08 L315.20,256.61 L315.40,256.54 L315.50,256.73 L315.60,256.46 L315.70,256.37 L315.90,256.48 L316.00,256.33 L316.10,256.51 L316.40,256.61 L316.80,256.53 L316.90,256.64 L317.00,256.64 L317.10,256.54 L317.30,256.76 L317.40,256.61 L317.60,256.82 L318.10,256.27 L318.20,256.37 L318.50,256.29 L318.70,256.42 L319.10,256.90 L319.30,256.74 L319.50,256.80 L319.60,256.49 L319.70,256.44 L319.90,256.62 L320.00,256.50 L320.20,256.66 L320.40,256.47 L320.60,256.61 L320.70,256.53 L320.80,256.68 L320.90,256.65 L321.10,256.32 L321.20,256.32 L321.60,254.86 L321.80,253.73 L322.10,250.96 L322.20,250.61 L322.30,251.10 L322.70,254.90 L323.10,255.98 L323.20,255.93 L323.40,256.27 L323.70,256.44 L323.80,256.67 L324.00,256.85 L324.30,256.82 L324.40,256.61 L324.50,256.62 L324.60,256.52 L324.70,256.61 L324.80,256.46 L324.90,256.57 L325.10,256.62 L325.30,256.92 L325.40,256.78 L325.60,257.01 L325.80,256.66 L325.90,256.82 L326.00,256.70 L326.30,256.84 L326.50,256.78 L326.70,256.62 L327.20,256.83 L327.30,256.76 L327.60,256.24 L327.70,256.22 L327.80,256.26 L328.10,256.87 L328.20,256.86 L328.40,256.66 L328.70,256.08 L328.90,256.18 L329.10,256.12 L329.20,256.15 L329.80,255.69 L329.90,255.51 L330.00,255.61 L330.20,255.33 L330.40,254.85 L330.70,253.20 L331.00,251.00 L331.50,243.54 L331.60,243.05 L331.80,244.80 L332.10,249.16 L332.30,250.60 L332.50,251.36 L332.70,251.33 L332.80,251.12 L333.00,249.82 L333.30,246.95 L333.40,246.56 L333.50,246.87 L334.00,251.99 L334.30,253.63 L334.50,254.17 L334.90,254.84 L335.00,254.78 L335.10,254.90 L335.60,254.68 L335.70,254.80 L335.90,254.74 L336.40,254.84 L336.60,254.57 L336.90,253.85 L337.20,253.59 L337.40,253.31 L338.10,251.90 L338.40,251.20 L338.90,249.24 L339.50,245.81 L340.70,235.29 L341.00,233.35 L341.20,232.87 L341.30,232.87 L341.40,233.19 L341.60,234.29 L342.90,246.05 L343.60,250.02 L344.30,252.11 L345.00,253.87 L345.20,254.04 L345.30,254.26 L345.50,254.28 L345.70,254.89 L346.00,254.95 L346.10,254.80 L346.30,254.80 L346.40,255.08 L346.80,255.59 L346.90,255.46 L347.20,255.44 L347.60,256.00 L347.80,256.22 L347.90,256.21 L348.00,256.30 L348.20,256.33 L348.40,256.21 L348.50,256.37 L348.90,256.34 L349.00,256.21 L349.30,256.12 L349.50,256.27 L349.90,256.78 L350.20,256.97 L350.40,256.89 L350.50,256.90 L350.80,256.53 L351.10,256.87 L351.30,257.27 L351.40,257.32 L351.60,257.32 L351.80,256.93 L352.00,256.81 L352.10,256.88 L352.30,257.24 L352.40,257.18 L352.50,257.20 L352.80,256.92 L352.90,256.97 L353.00,256.87 L353.30,256.96 L353.50,257.14 L354.10,257.23 L354.20,257.20 L354.30,257.28 L354.50,257.00 L354.90,256.86 L355.10,257.00 L355.20,257.00 L355.30,256.92 L355.40,257.06 L355.70,257.17 L355.80,257.10 L355.90,257.16 L356.10,257.00 L356.20,257.00 L356.30,257.13 L356.40,257.09 L356.50,257.26 L356.60,257.29 L356.90,257.22 L357.00,257.08 L357.10,257.14 L357.30,257.11 L357.40,256.97 L357.70,257.18 L357.80,257.13 L357.90,257.22 L358.10,257.11 L358.20,256.94 L358.30,256.88 L358.70,257.21 L358.80,257.16 L359.00,257.32 L359.10,257.20 L359.20,257.37 L359.40,257.42 L359.60,257.39 L359.70,257.14 L360.00,257.30 L360.10,257.27 L360.20,257.50 L360.30,257.54 L360.50,257.28 L360.60,257.21 L360.70,257.23 L360.90,257.06 L361.10,257.27 L361.20,257.16 L361.40,257.20 L361.60,256.85 L361.90,256.65 L362.10,257.01 L362.30,256.52 L362.40,256.49 L362.80,255.26 L363.20,252.15 L363.30,251.83 L363.40,252.16 L363.80,254.92 L364.10,255.76 L364.30,256.06 L364.40,256.03 L364.60,255.81 L364.90,254.89 L365.30,251.97 L365.40,251.69 L365.50,252.02 L365.90,255.37 L366.10,256.13 L366.30,256.42 L366.40,256.45 L366.50,256.71 L366.70,256.75 L366.80,256.85 L367.00,256.78 L367.10,256.98 L367.20,257.02 L367.40,257.28 L367.60,256.95 L367.70,257.10 L367.80,257.05 L367.90,257.09 L368.10,257.30 L368.30,257.08 L368.40,257.10 L368.50,257.22 L368.60,257.05 L368.80,257.35 L369.00,257.21 L369.10,257.43 L369.40,257.42 L369.50,257.54 L369.80,257.14 L369.90,257.17 L370.00,257.09 L370.20,257.19 L370.40,257.16 L370.70,257.21 L370.90,257.34 L371.00,257.34" fill="none" stroke="#000" stroke-width="0.95" stroke-linejoin="round"/>
<path d="M117.6,90.5 L120.9,90.5 L128.0,102.1 L124.7,102.1Z" fill="#fff"/>
<line x1="117.4" y1="90.5" x2="124.5" y2="102.1" stroke="#111" stroke-width="1.15"/>
<line x1="120.8" y1="90.5" x2="127.9" y2="102.1" stroke="#111" stroke-width="1.15"/>
<path d="M117.6,170.5 L120.9,170.5 L128.0,182.1 L124.7,182.1Z" fill="#fff"/>
<line x1="117.4" y1="170.5" x2="124.5" y2="182.1" stroke="#111" stroke-width="1.15"/>
<line x1="120.8" y1="170.5" x2="127.9" y2="182.1" stroke="#111" stroke-width="1.15"/>
<path d="M117.6,250.4 L120.9,250.4 L128.0,262.2 L124.7,262.2Z" fill="#fff"/>
<line x1="117.4" y1="250.4" x2="124.5" y2="262.2" stroke="#111" stroke-width="1.15"/>
<line x1="120.8" y1="250.4" x2="127.9" y2="262.2" stroke="#111" stroke-width="1.15"/>
<line x1="20.3" y1="267.5" x2="120.8" y2="267.5" stroke="#7a7a7a" stroke-width="1"/>
<line x1="125.1" y1="267.5" x2="371" y2="267.5" stroke="#7a7a7a" stroke-width="1"/>
<line x1="53.5" y1="268" x2="53.5" y2="271" stroke="#777" stroke-width="0.8"/>
<text x="53.1" y="281.1" font-size="7.9" fill="#333" text-anchor="middle">9.4</text>
<line x1="87.7" y1="268" x2="87.7" y2="271" stroke="#777" stroke-width="0.8"/>
<text x="87.3" y="281.1" font-size="7.9" fill="#333" text-anchor="middle">9.2</text>
<line x1="142.2" y1="268" x2="142.2" y2="271" stroke="#777" stroke-width="0.8"/>
<text x="141.79999999999998" y="281.1" font-size="7.9" fill="#333" text-anchor="middle">8.4</text>
<line x1="175.9" y1="268" x2="175.9" y2="271" stroke="#777" stroke-width="0.8"/>
<text x="175.5" y="281.1" font-size="7.9" fill="#333" text-anchor="middle">8.2</text>
<line x1="209.6" y1="268" x2="209.6" y2="271" stroke="#777" stroke-width="0.8"/>
<text x="209.2" y="281.1" font-size="7.9" fill="#333" text-anchor="middle">8.0</text>
<line x1="243.4" y1="268" x2="243.4" y2="271" stroke="#777" stroke-width="0.8"/>
<text x="243.0" y="281.1" font-size="7.9" fill="#333" text-anchor="middle">7.8</text>
<line x1="277.6" y1="268" x2="277.6" y2="271" stroke="#777" stroke-width="0.8"/>
<text x="277.20000000000005" y="281.1" font-size="7.9" fill="#333" text-anchor="middle">7.6</text>
<line x1="311.5" y1="268" x2="311.5" y2="271" stroke="#777" stroke-width="0.8"/>
<text x="311.1" y="281.1" font-size="7.9" fill="#333" text-anchor="middle">7.4</text>
<line x1="345.4" y1="268" x2="345.4" y2="271" stroke="#777" stroke-width="0.8"/>
<text x="345.0" y="281.1" font-size="7.9" fill="#333" text-anchor="middle">7.2</text>
<text x="358.2" y="280.2" font-size="7.9" fill="#333">ppm</text>
<line x1="37.6" y1="100" x2="43.5" y2="139.4" stroke="#111" stroke-width="1.05" stroke-dasharray="1 1"/>
<line x1="83.8" y1="100" x2="94.2" y2="135.4" stroke="#111" stroke-width="1.05" stroke-dasharray="1 1"/>
<line x1="131.7" y1="100" x2="136.9" y2="146.4" stroke="#111" stroke-width="1.05" stroke-dasharray="1 1"/>
<line x1="151.2" y1="100" x2="153.6" y2="107" stroke="#111" stroke-width="1.05" stroke-dasharray="1 1"/>
<line x1="183.2" y1="100" x2="193" y2="143" stroke="#111" stroke-width="1.05" stroke-dasharray="1 1"/>
<line x1="192.8" y1="100" x2="198.9" y2="117.2" stroke="#111" stroke-width="1.05" stroke-dasharray="1 1"/>
<line x1="43.5" y1="180" x2="43.5" y2="239" stroke="#111" stroke-width="1.05" stroke-dasharray="1 1"/>
<line x1="96.5" y1="180" x2="96.5" y2="207" stroke="#111" stroke-width="1.05" stroke-dasharray="1 1"/>
<line x1="137.5" y1="180" x2="137.5" y2="241" stroke="#111" stroke-width="1.05" stroke-dasharray="1 1"/>
<line x1="153.5" y1="180" x2="153.5" y2="231" stroke="#111" stroke-width="1.05" stroke-dasharray="1 1"/>
<line x1="194.5" y1="180" x2="194.5" y2="215" stroke="#111" stroke-width="1.05" stroke-dasharray="1 1"/>
<circle cx="37.8" cy="47.3" r="3.7" fill="#ec4a4c" stroke="#111" stroke-width="0.85"/>
<circle cx="83.6" cy="59" r="3.7" fill="#1ec0f0" stroke="#111" stroke-width="0.85"/>
<circle cx="131.1" cy="51.5" r="3.7" fill="#ffffff" stroke="#111" stroke-width="0.85"/>
<path d="M151,1.2000000000000002 L155.3,5.5 L151,9.8 L146.7,5.5 Z" fill="#ec4a4c" stroke="#111" stroke-width="0.85"/>
<circle cx="181.4" cy="78.4" r="3.7" fill="#f7b500" stroke="#111" stroke-width="0.85"/>
<path d="M191.6,26.599999999999998 L195.9,30.9 L191.6,35.199999999999996 L187.29999999999998,30.9 Z" fill="#1ec0f0" stroke="#111" stroke-width="0.85"/>
<circle cx="44.2" cy="143.5" r="3.7" fill="#ec4a4c" stroke="#111" stroke-width="0.85"/>
<circle cx="95.1" cy="139.8" r="3.7" fill="#1ec0f0" stroke="#111" stroke-width="0.85"/>
<circle cx="137.3" cy="150.6" r="3.7" fill="#ffffff" stroke="#111" stroke-width="0.85"/>
<path d="M154.4,107.0 L158.70000000000002,111.3 L154.4,115.6 L150.1,111.3 Z" fill="#ec4a4c" stroke="#111" stroke-width="0.85"/>
<circle cx="194.2" cy="147.1" r="3.7" fill="#f7b500" stroke="#111" stroke-width="0.85"/>
<path d="M200,116.9 L204.3,121.2 L200,125.5 L195.7,121.2 Z" fill="#1ec0f0" stroke="#111" stroke-width="0.85"/>
<path d="M209.8,140.29999999999998 L214.10000000000002,144.6 L209.8,148.9 L205.5,144.6 Z" fill="#ffffff" stroke="#111" stroke-width="0.85"/>
<path d="M217.9,140.29999999999998 L222.20000000000002,144.6 L217.9,148.9 L213.6,144.6 Z" fill="#f7b500" stroke="#111" stroke-width="0.85"/>
<path d="M225.4,140.29999999999998 L229.70000000000002,144.6 L225.4,148.9 L221.1,144.6 Z" fill="#111111" stroke="#111" stroke-width="0.85"/>
<circle cx="42.9" cy="243.4" r="3.7" fill="#ec4a4c" stroke="#111" stroke-width="0.85"/>
<circle cx="96.7" cy="210.9" r="3.7" fill="#1ec0f0" stroke="#111" stroke-width="0.85"/>
<circle cx="137.7" cy="244.7" r="3.7" fill="#ffffff" stroke="#111" stroke-width="0.85"/>
<path d="M153.8,231.29999999999998 L158.10000000000002,235.6 L153.8,239.9 L149.5,235.6 Z" fill="#ec4a4c" stroke="#111" stroke-width="0.85"/>
<circle cx="193.9" cy="218.8" r="3.7" fill="#f7b500" stroke="#111" stroke-width="0.85"/>
<path d="M201.2,225.29999999999998 L205.5,229.6 L201.2,233.9 L196.89999999999998,229.6 Z" fill="#1ec0f0" stroke="#111" stroke-width="0.85"/>
<path d="M208.8,236.29999999999998 L213.10000000000002,240.6 L208.8,244.9 L204.5,240.6 Z" fill="#ffffff" stroke="#111" stroke-width="0.85"/>
<path d="M208.8,184.89999999999998 L213.10000000000002,189.2 L208.8,193.5 L204.5,189.2 Z" fill="#f7b500" stroke="#111" stroke-width="0.85"/>
<path d="M215.6,184.89999999999998 L219.9,189.2 L215.6,193.5 L211.29999999999998,189.2 Z" fill="#111111" stroke="#111" stroke-width="0.85"/>
<path d="M222.5,184.89999999999998 L226.8,189.2 L222.5,193.5 L218.2,189.2 Z" fill="#e640c8" stroke="#111" stroke-width="0.85"/>
<text x="232.6" y="69.8" font-size="9.5" fill="#111">H<tspan font-size="5.89" dy="-3.61">1</tspan></text>
<text x="268.4" y="46" font-size="9.5" fill="#111">H<tspan font-size="5.89" dy="-3.61">2</tspan></text>
<line x1="271" y1="51" x2="281" y2="62" stroke="#333" stroke-width="0.6"/>
<text x="290.8" y="46" font-size="9.5" fill="#111">H<tspan font-size="5.89" dy="-3.61">3</tspan></text>
<line x1="291.7" y1="50.8" x2="296.6" y2="73.4" stroke="#333" stroke-width="0.6"/>
<text x="311.7" y="46" font-size="9.5" fill="#111">H<tspan font-size="5.89" dy="-3.61">4</tspan></text>
<line x1="313" y1="50" x2="316.7" y2="63.5" stroke="#333" stroke-width="0.6"/>
<text x="330.7" y="46" font-size="9.5" fill="#111">H<tspan font-size="5.89" dy="-3.61">5</tspan></text>
<line x1="333" y1="48" x2="330.3" y2="54.4" stroke="#333" stroke-width="0.6"/>
<text x="353.7" y="73.4" font-size="9.5" fill="#111">H<tspan font-size="5.89" dy="-3.61">6</tspan></text>
<text x="243.5" y="149" font-size="9.5" fill="#111">H<tspan font-size="5.89" dy="-3.61">1</tspan></text>
<text x="295.8" y="125" font-size="9.5" fill="#111">H<tspan font-size="5.89" dy="-3.61">2</tspan></text>
<line x1="297.7" y1="130.8" x2="296.3" y2="150" stroke="#333" stroke-width="0.6"/>
<text x="306.5" y="140.8" font-size="9.5" fill="#111">H<tspan font-size="5.89" dy="-3.61">3</tspan></text>
<line x1="308.8" y1="144.6" x2="307.9" y2="162.5" stroke="#333" stroke-width="0.6"/>
<text x="321.3" y="127" font-size="9.5" fill="#111">H<tspan font-size="5.89" dy="-3.61">4</tspan></text>
<line x1="323.3" y1="131.7" x2="322.3" y2="157.7" stroke="#333" stroke-width="0.6"/>
<text x="341" y="128" font-size="9.5" fill="#222">H<tspan font-size="5.9" dy="-3.6">5</tspan><tspan dy="3.6">/H</tspan><tspan font-size="5.9" dy="-3.6">5'</tspan></text>
<line x1="344.4" y1="130.8" x2="334.4" y2="140.8" stroke="#333" stroke-width="0.6"/>
<text x="358.8" y="157.7" font-size="9.5" fill="#111">H<tspan font-size="5.89" dy="-3.61">6</tspan></text>
<text x="246" y="224" font-size="9.5" fill="#111">H<tspan font-size="5.89" dy="-3.61">1</tspan></text>
<text x="287.8" y="240.6" font-size="9.5" fill="#111">H<tspan font-size="5.89" dy="-3.61">2</tspan></text>
<text x="301.4" y="202.3" font-size="9.5" fill="#111">H<tspan font-size="5.89" dy="-3.61">3</tspan></text>
<text x="317.8" y="245.8" font-size="9.5" fill="#111">H<tspan font-size="5.89" dy="-3.61">4</tspan></text>
<text x="332" y="228.4" font-size="9.5" fill="#222">H<tspan font-size="5.9" dy="-3.6">5</tspan><tspan dy="3.6">/H</tspan><tspan font-size="5.9" dy="-3.6">5'</tspan></text>
<text x="357.6" y="246.6" font-size="9.5" fill="#111">H<tspan font-size="5.89" dy="-3.61">6</tspan></text>
<text transform="translate(0.6,309.2) scale(1.12,1)" font-size="12.5" font-weight="bold" fill="#000" stroke="#000" stroke-width="0.35">b</text>
<path d="M42.00,330.13 L52.00,329.95 L55.40,329.81 L58.00,329.63 L60.20,329.38 L62.00,329.05 L63.40,328.64 L64.60,328.11 L65.60,327.45 L66.40,326.70 L67.20,325.63 L67.80,324.53 L68.40,323.10 L68.80,321.93 L70.60,315.38 L71.00,314.51 L71.20,314.32 L71.40,314.32 L71.60,314.51 L72.00,315.36 L73.80,321.88 L74.20,323.05 L74.80,324.47 L75.40,325.55 L76.00,326.37 L76.60,327.00 L77.40,327.62 L78.60,328.25 L80.00,328.71 L81.80,329.04 L84.00,329.24 L86.80,329.31 L89.40,329.21 L91.80,328.94 L93.60,328.56 L95.20,327.97 L96.40,327.24 L97.40,326.30 L98.20,325.20 L99.00,323.62 L99.60,322.02 L100.20,319.99 L101.60,314.64 L102.00,313.73 L102.20,313.53 L102.40,313.52 L102.60,313.69 L103.00,314.54 L104.60,320.36 L105.00,321.59 L105.60,323.08 L106.20,324.18 L106.80,324.97 L107.40,325.52 L108.00,325.87 L108.40,326.01 L109.00,326.09 L109.60,326.03 L110.00,325.90 L110.80,325.42 L111.60,324.56 L112.40,323.19 L113.00,321.73 L114.80,315.92 L115.20,315.16 L115.40,315.01 L115.60,315.03 L115.80,315.22 L116.20,316.05 L118.00,322.21 L118.40,323.32 L119.00,324.66 L119.60,325.70 L120.40,326.71 L121.20,327.44 L122.20,328.07 L123.40,328.59 L124.80,328.99 L126.60,329.32 L128.80,329.57 L131.40,329.76 L134.80,329.91 L144.40,330.10" fill="none" stroke="#000" stroke-width="1.05"/>
<path d="M71.3,301.29999999999995 L75.89999999999999,305.9 L71.3,310.5 L66.7,305.9 Z" fill="#ffffff" stroke="#111" stroke-width="0.85"/>
<path d="M102.3,301.29999999999995 L106.89999999999999,305.9 L102.3,310.5 L97.7,305.9 Z" fill="#f7b500" stroke="#111" stroke-width="0.85"/>
<path d="M115,301.29999999999995 L119.6,305.9 L115,310.5 L110.4,305.9 Z" fill="#111111" stroke="#111" stroke-width="0.85"/>
<path d="M39.63,333.00 L39.53,345.70 L39.33,352.50 L39.15,354.70 L38.92,356.30 L38.60,357.50 L38.18,358.40 L37.62,359.10 L36.80,359.70 L35.93,360.10 L34.56,360.50 L33.01,360.80 L30.76,361.10 L23.34,361.80 L22.20,362.00 L22.10,362.10 L22.66,362.30 L24.58,362.70 L24.82,362.80 L24.90,362.90 L24.60,363.10 L23.20,363.50 L23.08,363.60 L23.20,363.70 L24.23,363.90 L29.84,364.50 L31.95,364.80 L32.96,365.00 L34.01,365.30 L34.66,365.60 L35.05,365.90 L35.20,366.10 L35.31,366.40 L35.31,366.70 L35.20,367.10 L34.39,368.80 L34.12,369.10 L33.67,369.40 L32.92,369.70 L31.72,370.00 L26.26,370.80 L25.52,371.00 L25.48,371.10 L25.62,371.20 L27.04,371.60 L27.47,371.80 L27.52,371.90 L27.47,372.00 L26.83,372.40 L26.81,372.50 L26.96,372.60 L27.77,372.80 L32.47,373.50 L33.83,373.80 L34.72,374.10 L35.27,374.40 L35.59,374.70 L35.75,375.10 L35.64,375.50 L35.15,376.00 L34.12,376.50 L32.73,376.90 L31.17,377.20 L27.08,377.70 L17.14,378.50 L15.73,378.70 L15.54,378.80 L15.73,378.90 L17.16,379.10 L27.17,379.90 L31.31,380.40 L33.33,380.80 L34.63,381.20 L35.63,381.70 L36.01,382.00 L36.27,382.30 L36.46,382.70 L36.49,383.10 L36.37,383.50 L36.17,383.80 L35.84,384.10 L35.35,384.40 L34.03,384.90 L32.26,385.30 L30.30,385.60 L21.48,386.50 L20.36,386.70 L20.21,386.80 L20.38,386.90 L21.56,387.10 L29.78,387.90 L32.04,388.20 L33.70,388.50 L35.24,388.90 L36.47,389.40 L37.37,390.00 L38.08,390.80 L38.53,391.70 L38.88,392.90 L39.12,394.40 L39.31,396.50 L39.52,403.00 L39.63,415.50" fill="none" stroke="#000" stroke-width="1.05"/>
<circle cx="6.1" cy="373" r="3.7" fill="#1ec0f0" stroke="#111" stroke-width="0.85"/>
<line x1="42.4" y1="333.5" x2="143.6" y2="333.5" stroke="#888" stroke-width="0.9"/>
<line x1="143.6" y1="333.5" x2="143.6" y2="415.7" stroke="#999" stroke-width="0.9"/>
<line x1="42.5" y1="333.1" x2="42.5" y2="415.7" stroke="#222" stroke-width="1"/>
<line x1="42.4" y1="415.7" x2="143.6" y2="415.7" stroke="#666" stroke-width="0.9"/>
<line x1="143.6" y1="350.9" x2="148" y2="350.9" stroke="#777" stroke-width="0.8"/>
<text x="152.4" y="355.9" font-size="7.9" fill="#333">9.10</text>
<line x1="143.6" y1="380.7" x2="148" y2="380.7" stroke="#777" stroke-width="0.8"/>
<text x="152.4" y="384.3" font-size="7.9" fill="#333">9.15</text>
<line x1="143.6" y1="409.7" x2="148" y2="409.7" stroke="#777" stroke-width="0.8"/>
<text x="152.4" y="415.7" font-size="7.9" fill="#333">9.20</text>
<line x1="53.4" y1="415.7" x2="53.4" y2="420" stroke="#777" stroke-width="0.8"/>
<text x="51.5" y="432.1" font-size="7.9" fill="#333" text-anchor="middle">8.00</text>
<line x1="110.4" y1="415.7" x2="110.4" y2="420" stroke="#777" stroke-width="0.8"/>
<text x="110.9" y="432.1" font-size="7.9" fill="#333" text-anchor="middle">7.95</text>
<text x="150.6" y="431.1" font-size="7.9" fill="#333">ppm</text>
<line x1="70.5" y1="334" x2="70.5" y2="373.2" stroke="#111" stroke-width="1.35" stroke-dasharray="1 1"/>
<line x1="101.5" y1="334" x2="101.5" y2="357.7" stroke="#111" stroke-width="1.35" stroke-dasharray="1 1"/>
<line x1="115.5" y1="334" x2="115.5" y2="357.7" stroke="#111" stroke-width="1.35" stroke-dasharray="1 1"/>
<line x1="43" y1="369.5" x2="96.9" y2="369.5" stroke="#111" stroke-width="1.35" stroke-dasharray="1 1"/>
<line x1="43" y1="382.5" x2="64.2" y2="382.5" stroke="#111" stroke-width="1.35" stroke-dasharray="1 1"/>
<rect x="64.2" y="373.2" width="12.099999999999994" height="19.30000000000001" fill="#ffffff" stroke="#c06a28" stroke-width="0.9"/>
<rect x="96.9" y="357.7" width="11.0" height="22.400000000000034" fill="#ffffff" stroke="#c06a28" stroke-width="0.9"/>
<rect x="107.9" y="357.7" width="11.399999999999991" height="22.400000000000034" fill="#ffffff" stroke="#c06a28" stroke-width="0.9"/>
<ellipse cx="70.4" cy="382.8" rx="2.6" ry="6.6" fill="#f03030" stroke="#d01818" stroke-width="0.5"/>
<ellipse cx="70.4" cy="382.8" rx="1.1700000000000002" ry="4.619999999999999" fill="none" stroke="#ffb0b0" stroke-width="0.4"/>
<ellipse cx="102.3" cy="368.8" rx="3.4" ry="9" fill="#f03030" stroke="#d01818" stroke-width="0.5"/>
<ellipse cx="102.3" cy="368.8" rx="1.53" ry="6.3" fill="none" stroke="#ffb0b0" stroke-width="0.4"/>
<ellipse cx="113.6" cy="369.2" rx="3.4" ry="9" fill="#f03030" stroke="#d01818" stroke-width="0.5"/>
<ellipse cx="113.6" cy="369.2" rx="1.53" ry="6.3" fill="none" stroke="#ffb0b0" stroke-width="0.4"/>
<text transform="translate(191.6,310.0) scale(1.22,1)" font-size="12.8" font-weight="bold" fill="#000" stroke="#000" stroke-width="0.35">c</text>
<path d="M238.40,329.62 L239.70,329.48 L240.60,329.25 L241.20,328.93 L241.70,328.37 L242.00,327.74 L242.30,326.63 L242.80,323.33 L242.90,322.81 L243.00,322.60 L243.10,322.75 L243.20,323.20 L243.70,326.12 L243.90,326.73 L244.10,327.04 L244.20,327.09 L244.40,327.02 L244.60,326.70 L245.10,324.85 L245.30,324.40 L245.40,324.47 L245.50,324.71 L245.90,325.95 L246.10,326.19 L246.30,326.09 L246.60,325.28 L246.80,324.15 L247.30,319.09 L247.40,318.30 L247.50,318.00 L247.60,318.28 L247.70,319.06 L248.20,324.02 L248.40,325.08 L248.60,325.62 L248.80,325.76 L249.30,325.30 L249.70,325.63 L249.80,325.65 L249.90,325.57 L250.10,325.09 L250.40,323.86 L250.50,323.56 L250.60,323.50 L250.80,324.15 L251.30,326.84 L251.60,327.74 L251.80,328.11 L252.10,328.47 L252.50,328.74 L252.90,328.88 L253.80,328.96 L254.80,328.80 L255.50,328.47 L256.00,327.98 L256.40,327.26 L256.70,326.33 L257.30,323.22 L257.50,322.60 L257.60,322.58 L257.70,322.75 L258.00,323.62 L258.20,323.96 L258.30,323.98 L258.40,323.89 L258.50,323.68 L258.70,322.92 L259.10,320.52 L259.30,319.90 L259.40,319.98 L259.50,320.30 L259.90,322.18 L260.10,322.63 L260.20,322.65 L260.30,322.53 L260.50,321.89 L260.90,319.59 L261.10,319.00 L261.20,319.11 L261.30,319.46 L261.70,321.48 L261.90,321.95 L262.00,321.97 L262.10,321.84 L262.30,321.14 L262.70,318.65 L262.90,318.00 L263.00,318.11 L263.10,318.48 L263.50,320.58 L263.70,321.03 L263.80,321.01 L263.90,320.82 L264.10,319.94 L264.50,316.97 L264.60,316.47 L264.70,316.30 L264.80,316.51 L264.90,317.07 L265.30,320.33 L265.50,321.47 L265.70,322.08 L265.80,322.19 L265.90,322.19 L266.10,321.83 L266.20,321.46 L266.50,319.46 L266.80,315.74 L267.20,308.88 L267.40,307.20 L267.50,307.43 L267.60,308.31 L268.00,313.79 L268.30,315.96 L268.40,316.10 L268.50,315.97 L268.60,315.58 L269.00,312.47 L269.10,311.89 L269.20,311.70 L269.30,311.95 L269.40,312.58 L269.80,315.96 L270.00,316.64 L270.10,316.59 L270.20,316.27 L270.40,314.79 L270.80,309.92 L270.90,309.16 L271.00,309.00 L271.20,310.68 L271.80,320.02 L272.10,322.70 L272.40,324.22 L272.60,324.79 L272.90,325.15 L273.00,325.16 L273.20,325.00 L273.60,324.42 L273.70,324.36 L273.80,324.40 L274.00,324.79 L274.70,327.10 L275.10,327.89 L275.40,328.27 L275.80,328.61 L276.30,328.89 L276.80,329.07 L278.20,329.37 L280.40,329.57 L283.60,329.70 L288.40,329.78 L316.10,329.84 L321.10,329.76 L323.50,329.58 L324.40,329.37 L325.00,329.08 L325.50,328.58 L325.80,328.03 L326.10,327.08 L326.30,326.06 L326.80,321.89 L326.90,321.24 L327.00,321.00 L327.10,321.22 L327.20,321.85 L327.70,325.91 L327.90,326.88 L328.10,327.51 L328.40,328.07 L328.70,328.32 L329.10,328.36 L329.50,328.07 L329.80,327.51 L330.10,326.45 L330.30,325.27 L330.70,321.85 L330.80,321.22 L330.90,321.00 L331.00,321.24 L331.10,321.89 L331.50,325.39 L331.80,327.08 L332.20,328.25 L332.70,328.92 L333.10,329.20 L333.50,329.38 L334.70,329.62 L336.70,329.76 L340.10,329.84" fill="none" stroke="#000" stroke-width="1.05"/>
<text x="232.3" y="319.2" font-size="8.8" fill="#222">H<tspan font-size="5.4" dy="-3.4">4</tspan></text>
<line x1="240.3" y1="317.4" x2="244.2" y2="320.8" stroke="#111" stroke-width="0.9"/>
<text x="257.6" y="308.3" font-size="8.8" fill="#222">H<tspan font-size="5.4" dy="-3.4">5</tspan></text>
<line x1="261" y1="313.5" x2="263.6" y2="313.5" stroke="#111" stroke-width="0.9"/>
<text x="311.4" y="316" font-size="8.8" fill="#222">H<tspan font-size="5.4" dy="-3.4">6</tspan></text>
<line x1="319.5" y1="318.2" x2="324.7" y2="322.6" stroke="#111" stroke-width="0.9"/>
<path d="M235.41,333.00 L235.29,343.10 L235.07,348.60 L234.88,350.40 L234.64,351.70 L234.32,352.70 L233.87,353.50 L233.32,354.10 L232.58,354.60 L231.65,355.00 L230.18,355.40 L226.97,355.90 L219.86,356.60 L218.80,356.80 L218.72,356.90 L219.33,357.10 L221.39,357.50 L221.82,357.70 L221.80,357.80 L221.63,357.90 L219.67,358.40 L219.51,358.50 L219.60,358.60 L221.38,358.90 L226.90,359.50 L229.24,359.90 L230.33,360.20 L231.04,360.50 L231.61,360.90 L231.91,361.30 L232.06,361.90 L232.01,363.60 L232.47,365.30 L232.54,365.90 L232.47,366.30 L232.29,366.70 L232.03,367.00 L231.64,367.30 L231.06,367.60 L230.21,367.90 L228.41,368.30 L225.52,368.70 L219.62,369.30 L218.45,369.50 L218.30,369.60 L218.48,369.70 L219.70,369.90 L226.64,370.60 L229.85,371.10 L231.06,371.40 L232.15,371.80 L233.01,372.30 L233.63,372.90 L233.97,373.40 L234.21,373.90 L234.43,374.60 L234.60,375.40 L234.80,377.40 L234.86,380.10 L234.74,383.00 L234.48,385.30 L234.08,387.00 L233.82,387.70 L233.48,388.40 L233.08,389.00 L232.53,389.60 L231.91,390.10 L231.08,390.60 L230.18,391.00 L228.99,391.40 L226.35,392.00 L223.72,392.40 L220.05,392.80 L215.06,393.20 L202.87,394.00 L200.92,394.20 L200.39,394.30 L200.20,394.40 L200.36,394.50 L200.87,394.60 L202.78,394.80 L216.10,395.70 L221.54,396.20 L223.84,396.50 L226.06,396.90 L227.55,397.30 L228.48,397.70 L228.94,398.10 L228.99,398.30 L228.91,398.50 L228.50,398.80 L227.64,399.10 L225.47,399.50 L219.40,400.20 L218.94,400.30 L218.80,400.40 L219.00,400.50 L220.29,400.70 L225.18,401.20 L227.37,401.50 L229.14,401.90 L229.65,402.10 L229.97,402.30 L230.12,402.60 L229.91,402.90 L229.26,403.20 L228.53,403.40 L226.12,403.80 L221.06,404.40 L220.62,404.50 L220.50,404.60 L220.71,404.70 L221.22,404.80 L227.64,405.50 L230.15,405.90 L231.95,406.40 L232.61,406.70 L233.23,407.10 L233.73,407.60 L234.07,408.10 L234.38,408.80 L234.64,409.70 L234.98,412.10 L235.20,416.00" fill="none" stroke="#000" stroke-width="1.05"/>
<path d="M213.3,345.09999999999997 L217.9,349.7 L213.3,354.3 L208.70000000000002,349.7 Z" fill="#111111" stroke="#111" stroke-width="0.85"/>
<path d="M213.3,355.79999999999995 L217.9,360.4 L213.3,365.0 L208.70000000000002,360.4 Z" fill="#f7b500" stroke="#111" stroke-width="0.85"/>
<path d="M213.3,365.09999999999997 L217.9,369.7 L213.3,374.3 L208.70000000000002,369.7 Z" fill="#ffffff" stroke="#111" stroke-width="0.85"/>
<path d="M194.3,389.2 L198.9,393.8 L194.3,398.40000000000003 L189.70000000000002,393.8 Z" fill="#1ec0f0" stroke="#111" stroke-width="0.85"/>
<circle cx="213.3" cy="403.4" r="3.7" fill="#f7b500" stroke="#111" stroke-width="0.85"/>
<line x1="237.8" y1="333.4" x2="340.1" y2="333.4" stroke="#888" stroke-width="0.9"/>
<line x1="340.3" y1="333.4" x2="340.3" y2="415.8" stroke="#999" stroke-width="0.9"/>
<line x1="237.8" y1="333.1" x2="237.8" y2="415.8" stroke="#333" stroke-width="0.9"/>
<line x1="237.8" y1="415.8" x2="340.3" y2="415.8" stroke="#666" stroke-width="0.9"/>
<line x1="340.3" y1="341.7" x2="344.5" y2="341.7" stroke="#777" stroke-width="0.8"/>
<text x="350.3" y="348.2" font-size="7.9" fill="#333">7.90</text>
<line x1="340.3" y1="374.3" x2="344.5" y2="374.3" stroke="#777" stroke-width="0.8"/>
<text x="350.3" y="379.3" font-size="7.9" fill="#333">8.00</text>
<line x1="340.3" y1="406.4" x2="344.5" y2="406.4" stroke="#777" stroke-width="0.8"/>
<text x="350.3" y="410.3" font-size="7.9" fill="#333">8.10</text>
<line x1="260.4" y1="415.8" x2="260.4" y2="420.4" stroke="#777" stroke-width="0.8"/>
<text x="260.9" y="431.2" font-size="7.9" fill="#333" text-anchor="middle">7.30</text>
<line x1="292.6" y1="415.8" x2="292.6" y2="420.4" stroke="#777" stroke-width="0.8"/>
<text x="292.4" y="431.2" font-size="7.9" fill="#333" text-anchor="middle">7.20</text>
<line x1="324.3" y1="415.8" x2="324.3" y2="420.4" stroke="#777" stroke-width="0.8"/>
<text x="326" y="431.2" font-size="7.9" fill="#333" text-anchor="middle">7.10</text>
<text x="351" y="427.8" font-size="7.9" fill="#333">ppm</text>
<line x1="260.5" y1="334" x2="260.5" y2="350.3" stroke="#111" stroke-width="1.35" stroke-dasharray="1 1"/>
<line x1="262.5" y1="334" x2="262.5" y2="350.3" stroke="#111" stroke-width="1.35" stroke-dasharray="1 1"/>
<line x1="262.5" y1="366" x2="262.5" y2="386.3" stroke="#111" stroke-width="1.35" stroke-dasharray="1 1"/>
<line x1="270.5" y1="334" x2="270.5" y2="352.4" stroke="#111" stroke-width="1.35" stroke-dasharray="1 1"/>
<line x1="329.5" y1="334" x2="329.5" y2="361.5" stroke="#111" stroke-width="1.35" stroke-dasharray="1 1"/>
<line x1="239" y1="357.5" x2="255.2" y2="357.5" stroke="#111" stroke-width="1.35" stroke-dasharray="1 1"/>
<line x1="239" y1="360.5" x2="255.2" y2="360.5" stroke="#111" stroke-width="1.35" stroke-dasharray="1 1"/>
<line x1="239" y1="369.5" x2="323.6" y2="369.5" stroke="#111" stroke-width="1.35" stroke-dasharray="1 1"/>
<line x1="239" y1="394.5" x2="255.9" y2="394.5" stroke="#111" stroke-width="1.35" stroke-dasharray="1 1"/>
<rect x="255.2" y="350.3" width="9.400000000000034" height="15.300000000000011" fill="#eef2f8" stroke="#4a78b0" stroke-width="0.9"/>
<rect x="265.3" y="352.4" width="9.300000000000011" height="15.400000000000034" fill="#eef2f8" stroke="#4a78b0" stroke-width="0.9"/>
<rect x="255.9" y="386.3" width="13.599999999999994" height="15.5" fill="#eef2f8" stroke="#4a78b0" stroke-width="0.9"/>
<rect x="323.6" y="361.5" width="10.399999999999977" height="15.100000000000023" fill="#eef2f8" stroke="#4a78b0" stroke-width="0.9"/>
<rect x="256.8" y="353.3" width="6.399999999999977" height="9.099999999999966" rx="2.2" fill="#f01e1e"/>
<rect x="266.4" y="354.2" width="7.2000000000000455" height="12.800000000000011" rx="2.2" fill="#f01e1e"/>
<rect x="258" y="388.3" width="9.699999999999989" height="11.699999999999989" rx="2.2" fill="#f01e1e"/>
<ellipse cx="327.1" cy="369.2" rx="1.3" ry="4.8" fill="#f02020"/>
<ellipse cx="331" cy="369.2" rx="1.3" ry="4.8" fill="#f02020"/>
<path d="M421.6,16.3 L380.6,16.3 L380.6,221.7 L422,221.7" fill="none" stroke="#6e6e6e" stroke-width="1.3"/>
<path d="M622.4,17 L662.8,17 L662.8,225.3 L622.3,225.3" fill="none" stroke="#6e6e6e" stroke-width="1.3"/>
<path d="M662.8,141.7 L683.6,141.7 L683.6,348.5 L641.6,348.5" fill="none" stroke="#6e6e6e" stroke-width="1.3"/>
<text transform="translate(389.6,38.0) scale(1.25,1)" font-size="12.5" font-weight="bold" fill="#000" stroke="#000" stroke-width="0.35">d</text>
<path d="M525.20,52.10L536.00,52.10M455.00,47.80L460.40,43.50M503.60,52.10L509.00,47.80M492.80,43.50L503.60,43.50M503.60,43.50L509.00,39.20M487.40,56.40L492.80,52.10M476.60,56.40L487.40,56.40M519.80,47.80L525.20,52.10M509.00,39.20L519.80,39.20M476.60,47.80L487.40,47.80M519.80,56.40L525.20,52.10M492.80,52.10L503.60,52.10M503.60,52.10L509.00,56.40M503.60,43.50L509.00,47.80M519.80,39.20L525.20,43.50M460.40,43.50L471.20,43.50M519.80,47.80L525.20,43.50M487.40,47.80L492.80,52.10M471.20,52.10L476.60,47.80M509.00,47.80L519.80,47.80M509.00,56.40L519.80,56.40M460.40,52.10L471.20,52.10M455.00,47.80L460.40,52.10M471.20,43.50L476.60,39.20M525.20,43.50L536.00,43.50M487.40,39.20L492.80,43.50M536.00,52.10L541.40,47.80M471.20,52.10L476.60,56.40M487.40,47.80L492.80,43.50M476.60,39.20L487.40,39.20M471.20,43.50L476.60,47.80M536.00,43.50L541.40,47.80" stroke="#1a1a1a" stroke-width="0.85" fill="none"/>
<path d="M473.36,43.50L477.68,40.06M486.32,40.06L490.64,43.50M477.68,46.94L486.32,46.94M493.88,51.24L502.52,51.24M493.88,44.36L502.52,44.36M510.08,46.94L518.72,46.94M510.08,40.06L505.76,43.50M518.72,40.06L523.04,43.50M477.68,55.54L473.36,52.10M486.32,55.54L490.64,52.10M510.08,55.54L505.76,52.10M518.72,55.54L523.04,52.10" stroke="#1a1a1a" stroke-width="0.68" fill="none" opacity="0.8"/>
<path d="M525.20,52.10L536.00,52.10M476.60,56.40L487.40,56.40M492.80,52.10L503.60,52.10M509.00,56.40L519.80,56.40M460.40,52.10L471.20,52.10" stroke="#1a1a1a" stroke-width="1.9549999999999998" fill="none" stroke-linecap="round"/>
<line x1="460.40" y1="43.50" x2="456.92" y2="41.18" stroke="#1a1a1a" stroke-width="0.85"/>
<line x1="460.43" y1="42.32" x2="457.47" y2="40.34" stroke="#1a1a1a" stroke-width="0.68"/>
<text x="454.78" y="41.95" font-size="6" fill="#1a1a1a" text-anchor="middle">O</text>
<line x1="460.40" y1="52.10" x2="456.92" y2="54.42" stroke="#1a1a1a" stroke-width="0.85"/>
<line x1="459.32" y1="51.62" x2="456.36" y2="53.59" stroke="#1a1a1a" stroke-width="0.68"/>
<text x="454.78" y="58.05" font-size="6" fill="#1a1a1a" text-anchor="middle">O</text>
<rect x="452.80" y="45.20" width="4.4" height="5.2" fill="#fff"/>
<text x="455.00" y="50.00" font-size="6" fill="#1a1a1a" text-anchor="middle">N</text>
<line x1="451.98" y1="47.80" x2="447.44" y2="47.80" stroke="#1a1a1a" stroke-width="0.85"/>
<text x="444.74" y="49.90" font-size="5.8" fill="#1a1a1a" text-anchor="middle">R</text>
<line x1="536.00" y1="43.50" x2="539.48" y2="41.18" stroke="#1a1a1a" stroke-width="0.85"/>
<line x1="537.08" y1="43.98" x2="540.04" y2="42.01" stroke="#1a1a1a" stroke-width="0.68"/>
<text x="541.62" y="41.95" font-size="6" fill="#1a1a1a" text-anchor="middle">O</text>
<line x1="536.00" y1="52.10" x2="539.48" y2="54.42" stroke="#1a1a1a" stroke-width="0.85"/>
<line x1="535.97" y1="53.28" x2="538.93" y2="55.26" stroke="#1a1a1a" stroke-width="0.68"/>
<text x="541.62" y="58.05" font-size="6" fill="#1a1a1a" text-anchor="middle">O</text>
<rect x="539.20" y="45.20" width="4.4" height="5.2" fill="#fff"/>
<text x="541.40" y="50.00" font-size="6" fill="#1a1a1a" text-anchor="middle">N</text>
<line x1="544.42" y1="47.80" x2="548.96" y2="47.80" stroke="#1a1a1a" stroke-width="0.85"/>
<text x="551.66" y="49.90" font-size="5.8" fill="#1a1a1a" text-anchor="middle">R</text>
<path d="M546.40,110.40L557.20,110.40M476.20,106.10L481.60,101.80M524.80,110.40L530.20,106.10M514.00,101.80L524.80,101.80M524.80,101.80L530.20,97.50M508.60,114.70L514.00,110.40M497.80,114.70L508.60,114.70M541.00,106.10L546.40,110.40M530.20,97.50L541.00,97.50M497.80,106.10L508.60,106.10M541.00,114.70L546.40,110.40M514.00,110.40L524.80,110.40M524.80,110.40L530.20,114.70M524.80,101.80L530.20,106.10M541.00,97.50L546.40,101.80M481.60,101.80L492.40,101.80M541.00,106.10L546.40,101.80M508.60,106.10L514.00,110.40M492.40,110.40L497.80,106.10M530.20,106.10L541.00,106.10M530.20,114.70L541.00,114.70M481.60,110.40L492.40,110.40M476.20,106.10L481.60,110.40M492.40,101.80L497.80,97.50M546.40,101.80L557.20,101.80M508.60,97.50L514.00,101.80M557.20,110.40L562.60,106.10M492.40,110.40L497.80,114.70M508.60,106.10L514.00,101.80M497.80,97.50L508.60,97.50M492.40,101.80L497.80,106.10M557.20,101.80L562.60,106.10" stroke="#1a1a1a" stroke-width="0.85" fill="none"/>
<path d="M494.56,101.80L498.88,98.36M507.52,98.36L511.84,101.80M498.88,105.24L507.52,105.24M515.08,109.54L523.72,109.54M515.08,102.66L523.72,102.66M531.28,105.24L539.92,105.24M531.28,98.36L526.96,101.80M539.92,98.36L544.24,101.80M498.88,113.84L494.56,110.40M507.52,113.84L511.84,110.40M531.28,113.84L526.96,110.40M539.92,113.84L544.24,110.40" stroke="#1a1a1a" stroke-width="0.68" fill="none" opacity="0.8"/>
<path d="M546.40,110.40L557.20,110.40M497.80,114.70L508.60,114.70M514.00,110.40L524.80,110.40M530.20,114.70L541.00,114.70M481.60,110.40L492.40,110.40" stroke="#1a1a1a" stroke-width="1.9549999999999998" fill="none" stroke-linecap="round"/>
<line x1="481.60" y1="101.80" x2="478.12" y2="99.48" stroke="#1a1a1a" stroke-width="0.85"/>
<line x1="481.63" y1="100.62" x2="478.67" y2="98.64" stroke="#1a1a1a" stroke-width="0.68"/>
<text x="475.98" y="100.25" font-size="6" fill="#1a1a1a" text-anchor="middle">O</text>
<line x1="481.60" y1="110.40" x2="478.12" y2="112.72" stroke="#1a1a1a" stroke-width="0.85"/>
<line x1="480.52" y1="109.92" x2="477.56" y2="111.89" stroke="#1a1a1a" stroke-width="0.68"/>
<text x="475.98" y="116.35" font-size="6" fill="#1a1a1a" text-anchor="middle">O</text>
<rect x="474.00" y="103.50" width="4.4" height="5.2" fill="#fff"/>
<text x="476.20" y="108.30" font-size="6" fill="#1a1a1a" text-anchor="middle">N</text>
<line x1="473.18" y1="106.10" x2="468.64" y2="106.10" stroke="#1a1a1a" stroke-width="0.85"/>
<text x="465.94" y="108.20" font-size="5.8" fill="#1a1a1a" text-anchor="middle">R</text>
<line x1="557.20" y1="101.80" x2="560.68" y2="99.48" stroke="#1a1a1a" stroke-width="0.85"/>
<line x1="558.28" y1="102.28" x2="561.24" y2="100.31" stroke="#1a1a1a" stroke-width="0.68"/>
<text x="562.82" y="100.25" font-size="6" fill="#1a1a1a" text-anchor="middle">O</text>
<line x1="557.20" y1="110.40" x2="560.68" y2="112.72" stroke="#1a1a1a" stroke-width="0.85"/>
<line x1="557.17" y1="111.58" x2="560.13" y2="113.56" stroke="#1a1a1a" stroke-width="0.68"/>
<text x="562.82" y="116.35" font-size="6" fill="#1a1a1a" text-anchor="middle">O</text>
<rect x="560.40" y="103.50" width="4.4" height="5.2" fill="#fff"/>
<text x="562.60" y="108.30" font-size="6" fill="#1a1a1a" text-anchor="middle">N</text>
<line x1="565.62" y1="106.10" x2="570.16" y2="106.10" stroke="#1a1a1a" stroke-width="0.85"/>
<text x="572.86" y="108.20" font-size="5.8" fill="#1a1a1a" text-anchor="middle">R</text>
<path d="M568.50,168.50L579.30,168.50M498.30,164.20L503.70,159.90M546.90,168.50L552.30,164.20M536.10,159.90L546.90,159.90M546.90,159.90L552.30,155.60M530.70,172.80L536.10,168.50M519.90,172.80L530.70,172.80M563.10,164.20L568.50,168.50M552.30,155.60L563.10,155.60M519.90,164.20L530.70,164.20M563.10,172.80L568.50,168.50M536.10,168.50L546.90,168.50M546.90,168.50L552.30,172.80M546.90,159.90L552.30,164.20M563.10,155.60L568.50,159.90M503.70,159.90L514.50,159.90M563.10,164.20L568.50,159.90M530.70,164.20L536.10,168.50M514.50,168.50L519.90,164.20M552.30,164.20L563.10,164.20M552.30,172.80L563.10,172.80M503.70,168.50L514.50,168.50M498.30,164.20L503.70,168.50M514.50,159.90L519.90,155.60M568.50,159.90L579.30,159.90M530.70,155.60L536.10,159.90M579.30,168.50L584.70,164.20M514.50,168.50L519.90,172.80M530.70,164.20L536.10,159.90M519.90,155.60L530.70,155.60M514.50,159.90L519.90,164.20M579.30,159.90L584.70,164.20" stroke="#1a1a1a" stroke-width="0.85" fill="none"/>
<path d="M516.66,159.90L520.98,156.46M529.62,156.46L533.94,159.90M520.98,163.34L529.62,163.34M537.18,167.64L545.82,167.64M537.18,160.76L545.82,160.76M553.38,163.34L562.02,163.34M553.38,156.46L549.06,159.90M562.02,156.46L566.34,159.90M520.98,171.94L516.66,168.50M529.62,171.94L533.94,168.50M553.38,171.94L549.06,168.50M562.02,171.94L566.34,168.50" stroke="#1a1a1a" stroke-width="0.68" fill="none" opacity="0.8"/>
<path d="M568.50,168.50L579.30,168.50M519.90,172.80L530.70,172.80M536.10,168.50L546.90,168.50M552.30,172.80L563.10,172.80M503.70,168.50L514.50,168.50" stroke="#1a1a1a" stroke-width="1.9549999999999998" fill="none" stroke-linecap="round"/>
<line x1="503.70" y1="159.90" x2="500.22" y2="157.58" stroke="#1a1a1a" stroke-width="0.85"/>
<line x1="503.73" y1="158.72" x2="500.77" y2="156.74" stroke="#1a1a1a" stroke-width="0.68"/>
<text x="498.08" y="158.35" font-size="6" fill="#1a1a1a" text-anchor="middle">O</text>
<line x1="503.70" y1="168.50" x2="500.22" y2="170.82" stroke="#1a1a1a" stroke-width="0.85"/>
<line x1="502.62" y1="168.02" x2="499.66" y2="169.99" stroke="#1a1a1a" stroke-width="0.68"/>
<text x="498.08" y="174.45" font-size="6" fill="#1a1a1a" text-anchor="middle">O</text>
<rect x="496.10" y="161.60" width="4.4" height="5.2" fill="#fff"/>
<text x="498.30" y="166.40" font-size="6" fill="#1a1a1a" text-anchor="middle">N</text>
<line x1="495.28" y1="164.20" x2="490.74" y2="164.20" stroke="#1a1a1a" stroke-width="0.85"/>
<text x="488.04" y="166.30" font-size="5.8" fill="#1a1a1a" text-anchor="middle">R</text>
<line x1="579.30" y1="159.90" x2="582.78" y2="157.58" stroke="#1a1a1a" stroke-width="0.85"/>
<line x1="580.38" y1="160.38" x2="583.34" y2="158.41" stroke="#1a1a1a" stroke-width="0.68"/>
<text x="584.92" y="158.35" font-size="6" fill="#1a1a1a" text-anchor="middle">O</text>
<line x1="579.30" y1="168.50" x2="582.78" y2="170.82" stroke="#1a1a1a" stroke-width="0.85"/>
<line x1="579.27" y1="169.68" x2="582.23" y2="171.66" stroke="#1a1a1a" stroke-width="0.68"/>
<text x="584.92" y="174.45" font-size="6" fill="#1a1a1a" text-anchor="middle">O</text>
<rect x="582.50" y="161.60" width="4.4" height="5.2" fill="#fff"/>
<text x="584.70" y="166.40" font-size="6" fill="#1a1a1a" text-anchor="middle">N</text>
<line x1="587.72" y1="164.20" x2="592.26" y2="164.20" stroke="#1a1a1a" stroke-width="0.85"/>
<text x="594.96" y="166.30" font-size="5.8" fill="#1a1a1a" text-anchor="middle">R</text>
<line x1="476.60" y1="39.20" x2="475.05" y2="36.41" stroke="#222" stroke-width="0.9"/>
<rect x="468.40000000000003" y="28.0" width="8.8" height="8.8" rx="1.3" fill="#d4dae6" stroke="#4d5c80" stroke-width="0.8"/><text x="472.8" y="35.5" font-size="8.6" fill="#1a1a1a" text-anchor="middle">H</text>
<path d="M478.9,23.6L483.0,27.7L478.9,31.799999999999997L474.79999999999995,27.7Z" fill="#111111" stroke="#222" stroke-width="0.5"/>
<line x1="488.30" y1="36.80" x2="489.60" y2="32.40" stroke="#333" stroke-width="0.9"/>
<line x1="509.00" y1="39.20" x2="507.54" y2="36.59" stroke="#222" stroke-width="0.9"/>
<circle cx="505.2" cy="32.4" r="4.6" fill="#dde2ec" stroke="#55648a" stroke-width="0.8"/><text x="505.2" y="35.5" font-size="8.6" fill="#1a1a1a" text-anchor="middle">H</text>
<circle cx="509.9" cy="27.6" r="3.4" fill="#1ec0f0" stroke="#333" stroke-width="0.5"/>
<line x1="519.80" y1="39.20" x2="522.79" y2="34.58" stroke="#222" stroke-width="0.9"/>
<text x="524.2" y="34.4" font-size="5.5" fill="#222" text-anchor="middle">H</text>
<line x1="476.60" y1="56.40" x2="473.32" y2="61.42" stroke="#222" stroke-width="0.9"/>
<text x="471.9" y="65.6" font-size="5.5" fill="#222" text-anchor="middle">H</text>
<line x1="487.40" y1="56.40" x2="489.60" y2="59.63" stroke="#222" stroke-width="0.9"/>
<circle cx="492.3" cy="63.6" r="4.6" fill="#dde2ec" stroke="#55648a" stroke-width="0.8"/><text x="492.3" y="66.7" font-size="8.6" fill="#1a1a1a" text-anchor="middle">H</text>
<circle cx="499" cy="59.4" r="3.4" fill="#1ec0f0" stroke="#333" stroke-width="0.5"/>
<line x1="508.10" y1="58.80" x2="506.80" y2="63.20" stroke="#333" stroke-width="0.9"/>
<line x1="519.80" y1="56.40" x2="522.08" y2="60.09" stroke="#222" stroke-width="0.9"/>
<rect x="520.1" y="59.6" width="8.8" height="8.8" rx="1.3" fill="#d4dae6" stroke="#4d5c80" stroke-width="0.8"/><text x="524.5" y="67.1" font-size="8.6" fill="#1a1a1a" text-anchor="middle">H</text>
<path d="M529.9,54.8L534.0,58.9L529.9,63.0L525.8,58.9Z" fill="#111111" stroke="#222" stroke-width="0.5"/>
<line x1="497.80" y1="97.50" x2="495.86" y2="93.17" stroke="#222" stroke-width="0.9"/>
<text x="494.8" y="92.8" font-size="5.5" fill="#222" text-anchor="middle">H</text>
<line x1="508.60" y1="97.50" x2="510.03" y2="94.83" stroke="#222" stroke-width="0.9"/>
<circle cx="512.3" cy="90.6" r="4.6" fill="#dde2ec" stroke="#55648a" stroke-width="0.8"/><text x="512.3" y="93.69999999999999" font-size="8.6" fill="#1a1a1a" text-anchor="middle">H</text>
<circle cx="519.6" cy="87.6" r="3.4" fill="#1ec0f0" stroke="#333" stroke-width="0.5"/>
<line x1="531.10" y1="95.10" x2="532.40" y2="90.70" stroke="#333" stroke-width="0.9"/>
<line x1="541.00" y1="97.50" x2="543.13" y2="94.67" stroke="#222" stroke-width="0.9"/>
<rect x="541.5" y="86.6" width="8.8" height="8.8" rx="1.3" fill="#d4dae6" stroke="#4d5c80" stroke-width="0.8"/><text x="545.9" y="94.1" font-size="8.6" fill="#1a1a1a" text-anchor="middle">H</text>
<path d="M541.5,82.80000000000001L545.6,86.9L541.5,91.0L537.4,86.9Z" fill="#ffffff" stroke="#222" stroke-width="0.5"/>
<line x1="497.80" y1="114.70" x2="495.82" y2="117.89" stroke="#222" stroke-width="0.9"/>
<rect x="489.0" y="117.39999999999999" width="8.8" height="8.8" rx="1.3" fill="#d4dae6" stroke="#4d5c80" stroke-width="0.8"/><text x="493.4" y="124.89999999999999" font-size="8.6" fill="#1a1a1a" text-anchor="middle">H</text>
<path d="M498.4,124.1L502.5,128.2L498.4,132.29999999999998L494.29999999999995,128.2Z" fill="#f7b500" stroke="#222" stroke-width="0.5"/>
<line x1="507.70" y1="117.10" x2="506.40" y2="121.50" stroke="#333" stroke-width="0.9"/>
<line x1="530.20" y1="114.70" x2="529.52" y2="117.53" stroke="#222" stroke-width="0.9"/>
<circle cx="528.4" cy="122.2" r="4.6" fill="#dde2ec" stroke="#55648a" stroke-width="0.8"/><text x="528.4" y="125.3" font-size="8.6" fill="#1a1a1a" text-anchor="middle">H</text>
<circle cx="534.3" cy="121" r="3.4" fill="#1ec0f0" stroke="#333" stroke-width="0.5"/>
<line x1="541.00" y1="114.70" x2="543.55" y2="119.32" stroke="#222" stroke-width="0.9"/>
<text x="544.8" y="123.6" font-size="5.5" fill="#222" text-anchor="middle">H</text>
<line x1="519.90" y1="155.60" x2="518.45" y2="153.29" stroke="#222" stroke-width="0.9"/>
<rect x="511.6" y="145.0" width="8.8" height="8.8" rx="1.3" fill="#d4dae6" stroke="#4d5c80" stroke-width="0.8"/><text x="516" y="152.5" font-size="8.6" fill="#1a1a1a" text-anchor="middle">H</text>
<path d="M509.6,140.3L513.7,144.4L509.6,148.5L505.5,144.4Z" fill="#1ec0f0" stroke="#222" stroke-width="0.5"/>
<line x1="531.60" y1="153.20" x2="532.90" y2="148.80" stroke="#333" stroke-width="0.9"/>
<line x1="552.30" y1="155.60" x2="551.02" y2="153.01" stroke="#222" stroke-width="0.9"/>
<circle cx="548.9" cy="148.7" r="4.6" fill="#dde2ec" stroke="#55648a" stroke-width="0.8"/><text x="548.9" y="151.79999999999998" font-size="8.6" fill="#1a1a1a" text-anchor="middle">H</text>
<circle cx="553.1" cy="144.9" r="3.4" fill="#1ec0f0" stroke="#333" stroke-width="0.5"/>
<line x1="563.10" y1="155.60" x2="565.35" y2="152.56" stroke="#222" stroke-width="0.9"/>
<circle cx="568.2" cy="148.7" r="4.6" fill="#dde2ec" stroke="#55648a" stroke-width="0.8"/><text x="568.2" y="151.79999999999998" font-size="8.6" fill="#1a1a1a" text-anchor="middle">H</text>
<circle cx="574.6" cy="145.9" r="3.4" fill="#f7b500" stroke="#333" stroke-width="0.5"/>
<line x1="519.90" y1="172.80" x2="517.71" y2="177.04" stroke="#222" stroke-width="0.9"/>
<circle cx="515.5" cy="181.3" r="4.6" fill="#dde2ec" stroke="#55648a" stroke-width="0.8"/><text x="515.5" y="184.4" font-size="8.6" fill="#1a1a1a" text-anchor="middle">H</text>
<circle cx="511.2" cy="187.8" r="3.4" fill="#ffffff" stroke="#333" stroke-width="0.5"/>
<line x1="530.70" y1="172.80" x2="532.71" y2="176.98" stroke="#222" stroke-width="0.9"/>
<circle cx="534.8" cy="181.3" r="4.6" fill="#dde2ec" stroke="#55648a" stroke-width="0.8"/><text x="534.8" y="184.4" font-size="8.6" fill="#1a1a1a" text-anchor="middle">H</text>
<circle cx="531" cy="188.4" r="3.4" fill="#ec4a4c" stroke="#333" stroke-width="0.5"/>
<line x1="552.30" y1="172.80" x2="549.98" y2="176.93" stroke="#222" stroke-width="0.9"/>
<line x1="563.10" y1="172.80" x2="566.56" y2="177.73" stroke="#222" stroke-width="0.9"/>
<rect x="564.8000000000001" y="177.1" width="8.8" height="8.8" rx="1.3" fill="#d4dae6" stroke="#4d5c80" stroke-width="0.8"/><text x="569.2" y="184.6" font-size="8.6" fill="#1a1a1a" text-anchor="middle">H</text>
<path d="M574.2,172.5L578.3000000000001,176.6L574.2,180.7L570.1,176.6Z" fill="#ec4a4c" stroke="#222" stroke-width="0.5"/>
<text x="548.7" y="181.4" font-size="6" fill="#222" text-anchor="middle">O</text>
<line x1="549.9" y1="182.4" x2="555.5" y2="196.3" stroke="#222" stroke-width="0.7"/>
<path d="M555.50,196.30L564.60,197.40L567.40,203.10L562.30,208.20L553.80,207.00L551.00,200.80Z" fill="none" stroke="#333" stroke-width="0.75" stroke-linejoin="round"/><path d="M557.14,197.69L562.54,198.34M565.10,203.36L562.07,206.39M554.70,205.35L553.04,201.67" fill="none" stroke="#333" stroke-width="0.6375"/>
<line x1="551.00" y1="200.80" x2="541.67" y2="199.61" stroke="#555" stroke-width="0.7"/><text x="537.90" y="201.20" font-size="5.6" fill="#555" text-anchor="middle">H<tspan font-size="3.4" dy="-2.2">x</tspan></text>
<line x1="564.60" y1="197.40" x2="570.06" y2="193.24" stroke="#555" stroke-width="0.7"/><text x="572.00" y="193.30" font-size="5.6" fill="#555" text-anchor="middle">H<tspan font-size="3.4" dy="-2.2">x</tspan></text>
<line x1="567.40" y1="203.10" x2="575.04" y2="204.37" stroke="#555" stroke-width="0.7"/><text x="577.60" y="206.90" font-size="5.6" fill="#555" text-anchor="middle">H<tspan font-size="3.4" dy="-2.2">x</tspan></text>
<line x1="553.80" y1="207.00" x2="549.74" y2="211.52" stroke="#555" stroke-width="0.7"/><text x="547.00" y="215.90" font-size="5.6" fill="#555" text-anchor="middle">H<tspan font-size="3.4" dy="-2.2">x</tspan></text>
<line x1="562.30" y1="208.20" x2="565.22" y2="213.32" stroke="#555" stroke-width="0.7"/><text x="566.20" y="218.10" font-size="5.6" fill="#555" text-anchor="middle">H<tspan font-size="3.4" dy="-2.2">x</tspan></text>
<path d="M412.50,63.50L420.10,62.20L425.00,71.20L421.90,81.20L415.20,83.00L410.10,72.50Z" fill="none" stroke="#222" stroke-width="0.75" stroke-linejoin="round"/><path d="M414.30,65.31L418.81,64.54M423.05,72.37L421.21,78.30M415.22,79.66L412.20,73.43" fill="none" stroke="#222" stroke-width="0.6375"/><path d="M415.20,83.00L410.10,72.50" fill="none" stroke="#222" stroke-width="1.5750000000000002" stroke-linecap="round"/>
<path d="M412.00,93.00L416.50,99.30L414.70,111.00L407.40,112.90L402.00,104.70L403.80,93.90Z" fill="none" stroke="#222" stroke-width="0.75" stroke-linejoin="round"/><path d="M410.66,95.17L405.80,95.70M414.77,101.09L413.70,108.03M407.33,109.84L404.13,104.98" fill="none" stroke="#222" stroke-width="0.6375"/><path d="M416.50,99.30L414.70,111.00M414.70,111.00L407.40,112.90" fill="none" stroke="#222" stroke-width="1.5750000000000002" stroke-linecap="round"/>
<line x1="415.20" y1="83.00" x2="412.00" y2="93.00" stroke="#222" stroke-width="0.75"/>
<text x="403.80" y="77.00" font-size="6" fill="#222" text-anchor="middle">O</text>
<text x="422.80" y="101.40" font-size="6" fill="#222" text-anchor="middle">O</text>
<line x1="410.10" y1="72.50" x2="406.20" y2="73.60" stroke="#222" stroke-width="0.7"/>
<line x1="401.60" y1="73.40" x2="394.80" y2="69.40" stroke="#222" stroke-width="0.7"/>
<line x1="416.50" y1="99.30" x2="420.40" y2="98.80" stroke="#222" stroke-width="0.7"/>
<line x1="425.20" y1="100.60" x2="431.90" y2="104.70" stroke="#222" stroke-width="0.7"/>
<line x1="412.50" y1="63.50" x2="409.22" y2="55.56" stroke="#222" stroke-width="0.7"/><text x="407.40" y="54.60" font-size="5.6" fill="#222" text-anchor="middle">H<tspan font-size="3.4" dy="-2.2">x</tspan></text>
<line x1="420.10" y1="62.20" x2="422.58" y2="55.60" stroke="#222" stroke-width="0.7"/><text x="423.10" y="54.60" font-size="5.6" fill="#222" text-anchor="middle">H<tspan font-size="3.4" dy="-2.2">x</tspan></text>
<line x1="425.00" y1="71.20" x2="427.36" y2="70.41" stroke="#222" stroke-width="0.7"/><text x="429.80" y="71.40" font-size="5.6" fill="#222" text-anchor="middle">H<tspan font-size="3.4" dy="-2.2">x</tspan></text>
<line x1="421.90" y1="81.20" x2="424.07" y2="85.54" stroke="#222" stroke-width="0.7"/><text x="424.90" y="90.40" font-size="5.6" fill="#222" text-anchor="middle">H<tspan font-size="3.4" dy="-2.2">x</tspan></text>
<line x1="403.80" y1="93.90" x2="401.62" y2="89.47" stroke="#222" stroke-width="0.7"/><text x="399.60" y="88.60" font-size="5.6" fill="#222" text-anchor="middle">H<tspan font-size="3.4" dy="-2.2">x</tspan></text>
<line x1="402.00" y1="104.70" x2="392.73" y2="106.72" stroke="#222" stroke-width="0.7"/><text x="389.00" y="109.40" font-size="5.6" fill="#222" text-anchor="middle">H<tspan font-size="3.4" dy="-2.2">x</tspan></text>
<line x1="407.40" y1="112.90" x2="404.98" y2="119.02" stroke="#222" stroke-width="0.7"/><text x="403.20" y="124.00" font-size="5.6" fill="#222" text-anchor="middle">H<tspan font-size="3.4" dy="-2.2">x</tspan></text>
<line x1="414.70" y1="111.00" x2="417.04" y2="116.46" stroke="#222" stroke-width="0.7"/><text x="417.70" y="121.40" font-size="5.6" fill="#222" text-anchor="middle">H<tspan font-size="3.4" dy="-2.2">x</tspan></text>
<path d="M631.30,109.30L638.90,108.00L643.80,117.00L640.70,127.00L634.00,128.80L628.90,118.30Z" fill="none" stroke="#7a7a7a" stroke-width="0.75" stroke-linejoin="round"/><path d="M633.10,111.11L637.61,110.34M641.85,118.17L640.01,124.10M634.02,125.46L631.00,119.23" fill="none" stroke="#7a7a7a" stroke-width="0.6375"/><path d="M634.00,128.80L628.90,118.30" fill="none" stroke="#7a7a7a" stroke-width="1.5750000000000002" stroke-linecap="round"/>
<path d="M630.80,138.80L635.30,145.10L633.50,156.80L626.20,158.70L620.80,150.50L622.60,139.70Z" fill="none" stroke="#7a7a7a" stroke-width="0.75" stroke-linejoin="round"/><path d="M629.46,140.97L624.60,141.50M633.57,146.89L632.50,153.83M626.13,155.64L622.93,150.78" fill="none" stroke="#7a7a7a" stroke-width="0.6375"/><path d="M635.30,145.10L633.50,156.80M633.50,156.80L626.20,158.70" fill="none" stroke="#7a7a7a" stroke-width="1.5750000000000002" stroke-linecap="round"/>
<line x1="634.00" y1="128.80" x2="630.80" y2="138.80" stroke="#7a7a7a" stroke-width="0.75"/>
<text x="622.60" y="122.80" font-size="6" fill="#7a7a7a" text-anchor="middle">O</text>
<text x="641.60" y="147.20" font-size="6" fill="#7a7a7a" text-anchor="middle">O</text>
<line x1="628.90" y1="118.30" x2="625.00" y2="119.40" stroke="#7a7a7a" stroke-width="0.7"/>
<line x1="620.40" y1="119.20" x2="613.60" y2="115.20" stroke="#7a7a7a" stroke-width="0.7"/>
<line x1="635.30" y1="145.10" x2="639.20" y2="144.60" stroke="#7a7a7a" stroke-width="0.7"/>
<line x1="644.00" y1="146.40" x2="650.70" y2="150.50" stroke="#7a7a7a" stroke-width="0.7"/>
<line x1="631.30" y1="109.30" x2="628.02" y2="101.36" stroke="#7a7a7a" stroke-width="0.7"/><text x="626.20" y="100.40" font-size="5.6" fill="#7a7a7a" text-anchor="middle">H<tspan font-size="3.4" dy="-2.2">x</tspan></text>
<line x1="638.90" y1="108.00" x2="641.38" y2="101.40" stroke="#7a7a7a" stroke-width="0.7"/><text x="641.90" y="100.40" font-size="5.6" fill="#7a7a7a" text-anchor="middle">H<tspan font-size="3.4" dy="-2.2">x</tspan></text>
<line x1="643.80" y1="117.00" x2="646.16" y2="116.21" stroke="#7a7a7a" stroke-width="0.7"/><text x="648.60" y="117.20" font-size="5.6" fill="#7a7a7a" text-anchor="middle">H<tspan font-size="3.4" dy="-2.2">x</tspan></text>
<line x1="640.70" y1="127.00" x2="642.87" y2="131.34" stroke="#7a7a7a" stroke-width="0.7"/><text x="643.70" y="136.20" font-size="5.6" fill="#7a7a7a" text-anchor="middle">H<tspan font-size="3.4" dy="-2.2">x</tspan></text>
<line x1="622.60" y1="139.70" x2="620.42" y2="135.27" stroke="#7a7a7a" stroke-width="0.7"/><text x="618.40" y="134.40" font-size="5.6" fill="#7a7a7a" text-anchor="middle">H<tspan font-size="3.4" dy="-2.2">x</tspan></text>
<line x1="620.80" y1="150.50" x2="611.53" y2="152.52" stroke="#7a7a7a" stroke-width="0.7"/><text x="607.80" y="155.20" font-size="5.6" fill="#7a7a7a" text-anchor="middle">H<tspan font-size="3.4" dy="-2.2">x</tspan></text>
<line x1="626.20" y1="158.70" x2="623.78" y2="164.82" stroke="#7a7a7a" stroke-width="0.7"/><text x="622.00" y="169.80" font-size="5.6" fill="#7a7a7a" text-anchor="middle">H<tspan font-size="3.4" dy="-2.2">x</tspan></text>
<line x1="633.50" y1="156.80" x2="635.84" y2="162.26" stroke="#7a7a7a" stroke-width="0.7"/><text x="636.50" y="167.20" font-size="5.6" fill="#7a7a7a" text-anchor="middle">H<tspan font-size="3.4" dy="-2.2">x</tspan></text>
<rect x="411.5" y="28.4" width="32.10000000000002" height="13.0" rx="2" fill="url(#gb)" stroke="#2f3ff0" stroke-width="1"/><text x="427.55" y="37.9" font-size="8.3" fill="#333" text-anchor="middle">3.81 Å</text>
<rect x="543.6" y="60.6" width="31.899999999999977" height="12.699999999999996" rx="2" fill="url(#gr)" stroke="#e23838" stroke-width="1"/><text x="559.55" y="69.95" font-size="8.3" fill="#333" text-anchor="middle">3.05 Å</text>
<rect x="437.8" y="77.5" width="31.19999999999999" height="12.700000000000003" rx="2" fill="url(#gr)" stroke="#e23838" stroke-width="1"/><text x="453.4" y="86.85" font-size="8.3" fill="#333" text-anchor="middle">3.11 Å</text>
<rect x="588.9" y="70.9" width="31.200000000000045" height="13.0" rx="2" fill="url(#gb)" stroke="#2f3ff0" stroke-width="1" stroke-dasharray="1.6 1"/><text x="604.5" y="80.4" font-size="8.3" fill="#333" text-anchor="middle">2.78 Å</text>
<rect x="575.9" y="114.3" width="31.200000000000045" height="12.200000000000003" rx="2" fill="url(#gr)" stroke="#e23838" stroke-width="1" stroke-dasharray="1.6 1"/><text x="591.5" y="123.4" font-size="8.3" fill="#333" text-anchor="middle">3.40 Å</text>
<rect x="581.8" y="132" width="31.5" height="12.199999999999989" rx="2" fill="url(#gb)" stroke="#2f3ff0" stroke-width="1" stroke-dasharray="1.6 1"/><text x="597.55" y="141.1" font-size="8.3" fill="#333" text-anchor="middle">2.85 Å</text>
<rect x="431.6" y="144.5" width="31.19999999999999" height="12.300000000000011" rx="2" fill="url(#gb)" stroke="#2f3ff0" stroke-width="1"/><text x="447.20000000000005" y="153.65" font-size="8.3" fill="#333" text-anchor="middle">2.72 Å</text>
<path d="M443.6,36 C462,32 486,36 489.5,53" fill="none" stroke="#2233ee" stroke-width="1.1"/><path d="M490.60,56.50L487.39,53.01L491.64,51.87Z" fill="#2233ee"/>
<path d="M424.5,41.4 C421.5,44 419.5,45 417.5,46.2" fill="none" stroke="#2233ee" stroke-width="1.1"/><path d="M415.50,48.00L418.04,43.99L420.24,47.81Z" fill="#2233ee"/>
<path d="M543.6,67 L533,64.5" fill="none" stroke="#ee2a2a" stroke-width="1.1"/><path d="M530.20,63.80L534.83,62.76L533.69,67.01Z" fill="#ee2a2a"/>
<path d="M560,73.3 C592,95 592,136 538,130.8" fill="none" stroke="#ee2a2a" stroke-width="1.1"/><path d="M533.20,130.00L537.72,128.56L536.95,132.90Z" fill="#ee2a2a"/>
<path d="M465,77.5 C470,70 478,67.5 484,67" fill="none" stroke="#ee2a2a" stroke-width="1.1"/><path d="M487.40,66.80L483.41,69.36L483.02,64.97Z" fill="#ee2a2a"/>
<path d="M450.5,90.2 C446,110 465,120 484,121" fill="none" stroke="#ee2a2a" stroke-width="1.1"/><path d="M487.60,121.20L483.29,123.18L483.52,118.78Z" fill="#ee2a2a"/>
<path d="M588.9,77 C575,77 560,78 552.8,84" fill="none" stroke="#2233ee" stroke-width="1.1" stroke-dasharray="1.3 1.3"/><path d="M550.50,86.00L552.30,81.61L555.13,84.99Z" fill="#2233ee"/>
<path d="M611,83.9 C616,86 619,88 621.5,90.5" fill="none" stroke="#2233ee" stroke-width="1.1" stroke-dasharray="1.3 1.3"/><path d="M624.00,93.00L619.47,91.59L622.59,88.47Z" fill="#2233ee"/>
<path d="M583,114.3 C581,104 570,93 556,88.5" fill="none" stroke="#ee2a2a" stroke-width="1.1" stroke-dasharray="1.3 1.3"/><path d="M553.50,87.50L558.20,86.87L556.69,91.00Z" fill="#ee2a2a"/>
<path d="M584,126.5 C580,135 568,142 559.5,144.5" fill="none" stroke="#ee2a2a" stroke-width="1.1" stroke-dasharray="1.3 1.3"/><path d="M556.50,145.30L559.99,142.09L561.13,146.34Z" fill="#ee2a2a"/>
<path d="M581.8,138 C560,138 535,140 523.5,145.5" fill="none" stroke="#2233ee" stroke-width="1.1" stroke-dasharray="1.3 1.3"/><path d="M520.80,147.00L523.68,143.23L525.54,147.22Z" fill="#2233ee"/>
<path d="M613.3,140.5 C622,143 632,150 637,156" fill="none" stroke="#2233ee" stroke-width="1.1" stroke-dasharray="1.3 1.3"/><path d="M639.50,159.50L635.29,157.32L638.89,154.80Z" fill="#2233ee"/>
<path d="M462.8,149.5 C476,148 484,140 487.5,133" fill="none" stroke="#2233ee" stroke-width="1.1"/><path d="M489.00,129.80L489.22,134.54L485.23,132.68Z" fill="#2233ee"/>
<path d="M441,144.5 C434,139 428,133 425,129" fill="none" stroke="#2233ee" stroke-width="1.1"/><path d="M423.40,125.80L427.41,128.34L423.59,130.54Z" fill="#2233ee"/>
<text transform="translate(388.8,249.3) scale(1.15,1)" font-size="13.5" font-weight="bold" fill="#000" stroke="#000" stroke-width="0.35">e</text>
<path d="M507.7,299.6 L437.2,299.6 A70.5,70.5 0 0 1 460.16,247.54 Z" fill="#d6d6d6"/>
<path d="M437.2,299.6 A70.5,70.5 0 0 1 460.16,247.54" fill="none" stroke="#111" stroke-width="1.8"/>
<text x="429.6" y="254.4" font-size="8.2" fill="#222">47.6°</text>
<path d="M431.5,275.6 L537.0,275.6" stroke="#3c3c3c" stroke-width="5.8" stroke-linecap="round" fill="none"/><path d="M431.5,274.3 L537.0,274.3" stroke="#b0b0b0" stroke-width="1.87" fill="none"/><path d="M431.5,276.9 L537.0,276.9" stroke="#8c8c8c" stroke-width="1.66" fill="none"/><path d="M432.5,273.8 L536.0,273.8" stroke="#e8e8e8" stroke-width="0.9" fill="none"/><path d="M433,275.2 L492,275.2" stroke="#3c3c3c" stroke-width="9.6" stroke-linecap="butt" fill="none"/><path d="M433,273.0 L492,273.0" stroke="#b4b4b4" stroke-width="2.2" fill="none"/><path d="M433,275.2 L492,275.2" stroke="#9a9a9a" stroke-width="1.6" fill="none"/><path d="M433,277.5 L492,277.5" stroke="#8a8a8a" stroke-width="2" fill="none"/><path d="M434,272.3 L491,272.3" stroke="#ececec" stroke-width="0.8" fill="none"/><path d="M431.5,275.6 L427.5,275.6 M427.5,275.6 L423.8,270.8 M427.5,275.6 L424.1,280.6 M427.5,275.6 L422.7,276.0" fill="none" stroke="#4a4a4a" stroke-width="3.5999999999999996" stroke-linecap="round" stroke-linejoin="round"/><path d="M431.5,275.6 L427.5,275.6 M427.5,275.6 L423.8,270.8 M427.5,275.6 L424.1,280.6 M427.5,275.6 L422.7,276.0" fill="none" stroke="#cdcdcd" stroke-width="2.3" stroke-linecap="round" stroke-linejoin="round"/><path d="M431.5,275.6 L427.5,275.6 M427.5,275.6 L423.8,270.8 M427.5,275.6 L424.1,280.6 M427.5,275.6 L422.7,276.0" fill="none" stroke="#f6f6f6" stroke-width="0.8" stroke-linecap="round" stroke-linejoin="round" transform="translate(-0.3,-0.7)"/><path d="M537.0,275.6 L541.0,275.6 M541.0,275.6 L544.7,270.8 M541.0,275.6 L544.4,280.6 M541.0,275.6 L545.8,276.0" fill="none" stroke="#4a4a4a" stroke-width="3.5999999999999996" stroke-linecap="round" stroke-linejoin="round"/><path d="M537.0,275.6 L541.0,275.6 M541.0,275.6 L544.7,270.8 M541.0,275.6 L544.4,280.6 M541.0,275.6 L545.8,276.0" fill="none" stroke="#cdcdcd" stroke-width="2.3" stroke-linecap="round" stroke-linejoin="round"/><path d="M537.0,275.6 L541.0,275.6 M541.0,275.6 L544.7,270.8 M541.0,275.6 L544.4,280.6 M541.0,275.6 L545.8,276.0" fill="none" stroke="#f6f6f6" stroke-width="0.8" stroke-linecap="round" stroke-linejoin="round" transform="translate(-0.3,-0.7)"/><rect x="431.5" y="273.2" width="4.5" height="4.2" fill="#8c96dc"/><ellipse cx="438.5" cy="275.0" rx="2.6" ry="1.9" fill="#b8161c"/><ellipse cx="438.2" cy="274.3" rx="1.0" ry="0.6" fill="#e86060"/><rect x="532.5" y="273.2" width="4.5" height="4.2" fill="#8c96dc"/><ellipse cx="530.0" cy="275.0" rx="2.6" ry="1.9" fill="#b8161c"/><ellipse cx="530.3" cy="274.3" rx="1.0" ry="0.6" fill="#e86060"/>
<path d="M460.2,291.4L457.2,293.3M463.6,282.0L462.6,278.6M470.8,284.6L473.8,282.7M467.4,294.0L468.4,297.4M462.1,297.4L460.5,301.6M468.9,278.6L470.5,274.4" fill="none" stroke="#4a4a4a" stroke-width="3.7" stroke-linecap="round" stroke-linejoin="round"/><path d="M460.2,291.4L457.2,293.3M463.6,282.0L462.6,278.6M470.8,284.6L473.8,282.7M467.4,294.0L468.4,297.4M462.1,297.4L460.5,301.6M468.9,278.6L470.5,274.4" fill="none" stroke="#c4c4c4" stroke-width="2.4" stroke-linecap="round" stroke-linejoin="round"/><path d="M462.1,297.4L460.2,291.4L463.6,282.0L468.9,278.6L470.8,284.6L467.4,294.0Z" fill="none" stroke="#3a3a3a" stroke-width="4.3" stroke-linecap="round" stroke-linejoin="round"/><path d="M462.1,297.4L460.2,291.4L463.6,282.0L468.9,278.6L470.8,284.6L467.4,294.0Z" fill="none" stroke="#a4a4a4" stroke-width="3.0" stroke-linecap="round" stroke-linejoin="round"/><path d="M462.1,297.4L460.2,291.4L463.6,282.0L468.9,278.6L470.8,284.6L467.4,294.0Z" fill="none" stroke="#ececec" stroke-width="0.9" stroke-linecap="round" stroke-linejoin="round" transform="translate(-0.3,-0.7)"/>
<path d="M498.5,270.1L495.5,272.0M503.8,258.2L503.2,254.7M512.1,261.9L515.1,260.0M506.8,273.8L507.4,277.3M500.0,277.9L498.2,282.0M510.6,254.1L512.4,250.0" fill="none" stroke="#4a4a4a" stroke-width="3.7" stroke-linecap="round" stroke-linejoin="round"/><path d="M498.5,270.1L495.5,272.0M503.8,258.2L503.2,254.7M512.1,261.9L515.1,260.0M506.8,273.8L507.4,277.3M500.0,277.9L498.2,282.0M510.6,254.1L512.4,250.0" fill="none" stroke="#c4c4c4" stroke-width="2.4" stroke-linecap="round" stroke-linejoin="round"/><path d="M500.0,277.9L498.5,270.1L503.8,258.2L510.6,254.1L512.1,261.9L506.8,273.8Z" fill="none" stroke="#3a3a3a" stroke-width="4.3" stroke-linecap="round" stroke-linejoin="round"/><path d="M500.0,277.9L498.5,270.1L503.8,258.2L510.6,254.1L512.1,261.9L506.8,273.8Z" fill="none" stroke="#a4a4a4" stroke-width="3.0" stroke-linecap="round" stroke-linejoin="round"/><path d="M500.0,277.9L498.5,270.1L503.8,258.2L510.6,254.1L512.1,261.9L506.8,273.8Z" fill="none" stroke="#ececec" stroke-width="0.9" stroke-linecap="round" stroke-linejoin="round" transform="translate(-0.3,-0.7)"/>
<path d="M482.2,300.1L479.2,302.0M487.5,288.2L486.9,284.7M495.8,291.9L498.8,290.0M490.5,303.8L491.1,307.3M483.7,307.9L481.9,312.0M494.3,284.1L496.1,280.0" fill="none" stroke="#4a4a4a" stroke-width="3.7" stroke-linecap="round" stroke-linejoin="round"/><path d="M482.2,300.1L479.2,302.0M487.5,288.2L486.9,284.7M495.8,291.9L498.8,290.0M490.5,303.8L491.1,307.3M483.7,307.9L481.9,312.0M494.3,284.1L496.1,280.0" fill="none" stroke="#c4c4c4" stroke-width="2.4" stroke-linecap="round" stroke-linejoin="round"/><path d="M483.7,307.9L482.2,300.1L487.5,288.2L494.3,284.1L495.8,291.9L490.5,303.8Z" fill="none" stroke="#3a3a3a" stroke-width="4.3" stroke-linecap="round" stroke-linejoin="round"/><path d="M483.7,307.9L482.2,300.1L487.5,288.2L494.3,284.1L495.8,291.9L490.5,303.8Z" fill="none" stroke="#a4a4a4" stroke-width="3.0" stroke-linecap="round" stroke-linejoin="round"/><path d="M483.7,307.9L482.2,300.1L487.5,288.2L494.3,284.1L495.8,291.9L490.5,303.8Z" fill="none" stroke="#ececec" stroke-width="0.9" stroke-linecap="round" stroke-linejoin="round" transform="translate(-0.3,-0.7)"/>
<path d="M455.0,299.4 L560.0,299.4" stroke="#3c3c3c" stroke-width="6.8" stroke-linecap="round" fill="none"/><path d="M455.0,298.1 L560.0,298.1" stroke="#b0b0b0" stroke-width="2.23" fill="none"/><path d="M455.0,300.7 L560.0,300.7" stroke="#8c8c8c" stroke-width="1.98" fill="none"/><path d="M456.0,297.6 L559.0,297.6" stroke="#e8e8e8" stroke-width="0.9" fill="none"/><path d="M455.0,299.4 L451.0,299.4 M451.0,299.4 L447.3,294.6 M451.0,299.4 L447.6,304.4 M451.0,299.4 L446.2,299.8" fill="none" stroke="#4a4a4a" stroke-width="3.5999999999999996" stroke-linecap="round" stroke-linejoin="round"/><path d="M455.0,299.4 L451.0,299.4 M451.0,299.4 L447.3,294.6 M451.0,299.4 L447.6,304.4 M451.0,299.4 L446.2,299.8" fill="none" stroke="#cdcdcd" stroke-width="2.3" stroke-linecap="round" stroke-linejoin="round"/><path d="M455.0,299.4 L451.0,299.4 M451.0,299.4 L447.3,294.6 M451.0,299.4 L447.6,304.4 M451.0,299.4 L446.2,299.8" fill="none" stroke="#f6f6f6" stroke-width="0.8" stroke-linecap="round" stroke-linejoin="round" transform="translate(-0.3,-0.7)"/><path d="M560.0,299.4 L564.0,299.4 M564.0,299.4 L567.7,294.6 M564.0,299.4 L567.4,304.4 M564.0,299.4 L568.8,299.8" fill="none" stroke="#4a4a4a" stroke-width="3.5999999999999996" stroke-linecap="round" stroke-linejoin="round"/><path d="M560.0,299.4 L564.0,299.4 M564.0,299.4 L567.7,294.6 M564.0,299.4 L567.4,304.4 M564.0,299.4 L568.8,299.8" fill="none" stroke="#cdcdcd" stroke-width="2.3" stroke-linecap="round" stroke-linejoin="round"/><path d="M560.0,299.4 L564.0,299.4 M564.0,299.4 L567.7,294.6 M564.0,299.4 L567.4,304.4 M564.0,299.4 L568.8,299.8" fill="none" stroke="#f6f6f6" stroke-width="0.8" stroke-linecap="round" stroke-linejoin="round" transform="translate(-0.3,-0.7)"/><rect x="455.0" y="297.0" width="4.5" height="4.2" fill="#8c96dc"/><ellipse cx="462.0" cy="298.8" rx="2.6" ry="1.9" fill="#b8161c"/><ellipse cx="461.7" cy="298.1" rx="1.0" ry="0.6" fill="#e86060"/><rect x="555.5" y="297.0" width="4.5" height="4.2" fill="#8c96dc"/><ellipse cx="553.0" cy="298.8" rx="2.6" ry="1.9" fill="#b8161c"/><ellipse cx="553.3" cy="298.1" rx="1.0" ry="0.6" fill="#e86060"/>
<path d="M520.2,298.1L517.2,300.0M525.5,286.2L524.9,282.7M533.8,289.9L536.8,288.0M528.5,301.8L529.1,305.3M521.7,305.9L519.9,310.0M532.3,282.1L534.1,278.0" fill="none" stroke="#4a4a4a" stroke-width="3.7" stroke-linecap="round" stroke-linejoin="round"/><path d="M520.2,298.1L517.2,300.0M525.5,286.2L524.9,282.7M533.8,289.9L536.8,288.0M528.5,301.8L529.1,305.3M521.7,305.9L519.9,310.0M532.3,282.1L534.1,278.0" fill="none" stroke="#c4c4c4" stroke-width="2.4" stroke-linecap="round" stroke-linejoin="round"/><path d="M521.7,305.9L520.2,298.1L525.5,286.2L532.3,282.1L533.8,289.9L528.5,301.8Z" fill="none" stroke="#3a3a3a" stroke-width="4.3" stroke-linecap="round" stroke-linejoin="round"/><path d="M521.7,305.9L520.2,298.1L525.5,286.2L532.3,282.1L533.8,289.9L528.5,301.8Z" fill="none" stroke="#a4a4a4" stroke-width="3.0" stroke-linecap="round" stroke-linejoin="round"/><path d="M521.7,305.9L520.2,298.1L525.5,286.2L532.3,282.1L533.8,289.9L528.5,301.8Z" fill="none" stroke="#ececec" stroke-width="0.9" stroke-linecap="round" stroke-linejoin="round" transform="translate(-0.3,-0.7)"/>
<path d="M474.8,314.6L471.8,316.5M480.1,302.7L479.5,299.2M488.4,306.4L491.4,304.5M483.1,318.3L483.7,321.8M476.3,322.4L474.5,326.5M486.9,298.6L488.7,294.5" fill="none" stroke="#4a4a4a" stroke-width="3.7" stroke-linecap="round" stroke-linejoin="round"/><path d="M474.8,314.6L471.8,316.5M480.1,302.7L479.5,299.2M488.4,306.4L491.4,304.5M483.1,318.3L483.7,321.8M476.3,322.4L474.5,326.5M486.9,298.6L488.7,294.5" fill="none" stroke="#c4c4c4" stroke-width="2.4" stroke-linecap="round" stroke-linejoin="round"/><path d="M476.3,322.4L474.8,314.6L480.1,302.7L486.9,298.6L488.4,306.4L483.1,318.3Z" fill="none" stroke="#3a3a3a" stroke-width="4.3" stroke-linecap="round" stroke-linejoin="round"/><path d="M476.3,322.4L474.8,314.6L480.1,302.7L486.9,298.6L488.4,306.4L483.1,318.3Z" fill="none" stroke="#a4a4a4" stroke-width="3.0" stroke-linecap="round" stroke-linejoin="round"/><path d="M476.3,322.4L474.8,314.6L480.1,302.7L486.9,298.6L488.4,306.4L483.1,318.3Z" fill="none" stroke="#ececec" stroke-width="0.9" stroke-linecap="round" stroke-linejoin="round" transform="translate(-0.3,-0.7)"/>
<path d="M478.0,323.8 L582.5,323.8" stroke="#3c3c3c" stroke-width="6.8" stroke-linecap="round" fill="none"/><path d="M478.0,322.5 L582.5,322.5" stroke="#b0b0b0" stroke-width="2.23" fill="none"/><path d="M478.0,325.1 L582.5,325.1" stroke="#8c8c8c" stroke-width="1.98" fill="none"/><path d="M479.0,322.0 L581.5,322.0" stroke="#e8e8e8" stroke-width="0.9" fill="none"/><path d="M505,324.1 L560,324.1" stroke="#3c3c3c" stroke-width="8.1" stroke-linecap="butt" fill="none"/><path d="M505,321.9 L560,321.9" stroke="#b4b4b4" stroke-width="2.2" fill="none"/><path d="M505,324.1 L560,324.1" stroke="#9a9a9a" stroke-width="1.6" fill="none"/><path d="M505,326.4 L560,326.4" stroke="#8a8a8a" stroke-width="2" fill="none"/><path d="M506,321.2 L559,321.2" stroke="#ececec" stroke-width="0.8" fill="none"/><path d="M478.0,323.8 L474.0,323.8 M474.0,323.8 L470.3,319.0 M474.0,323.8 L470.6,328.8 M474.0,323.8 L469.2,324.2" fill="none" stroke="#4a4a4a" stroke-width="3.5999999999999996" stroke-linecap="round" stroke-linejoin="round"/><path d="M478.0,323.8 L474.0,323.8 M474.0,323.8 L470.3,319.0 M474.0,323.8 L470.6,328.8 M474.0,323.8 L469.2,324.2" fill="none" stroke="#cdcdcd" stroke-width="2.3" stroke-linecap="round" stroke-linejoin="round"/><path d="M478.0,323.8 L474.0,323.8 M474.0,323.8 L470.3,319.0 M474.0,323.8 L470.6,328.8 M474.0,323.8 L469.2,324.2" fill="none" stroke="#f6f6f6" stroke-width="0.8" stroke-linecap="round" stroke-linejoin="round" transform="translate(-0.3,-0.7)"/><path d="M582.5,323.8 L586.5,323.8 M586.5,323.8 L590.2,319.0 M586.5,323.8 L589.9,328.8 M586.5,323.8 L591.3,324.2" fill="none" stroke="#4a4a4a" stroke-width="3.5999999999999996" stroke-linecap="round" stroke-linejoin="round"/><path d="M582.5,323.8 L586.5,323.8 M586.5,323.8 L590.2,319.0 M586.5,323.8 L589.9,328.8 M586.5,323.8 L591.3,324.2" fill="none" stroke="#cdcdcd" stroke-width="2.3" stroke-linecap="round" stroke-linejoin="round"/><path d="M582.5,323.8 L586.5,323.8 M586.5,323.8 L590.2,319.0 M586.5,323.8 L589.9,328.8 M586.5,323.8 L591.3,324.2" fill="none" stroke="#f6f6f6" stroke-width="0.8" stroke-linecap="round" stroke-linejoin="round" transform="translate(-0.3,-0.7)"/><rect x="478.0" y="321.4" width="4.5" height="4.2" fill="#8c96dc"/><ellipse cx="485.0" cy="323.2" rx="2.6" ry="1.9" fill="#b8161c"/><ellipse cx="484.7" cy="322.5" rx="1.0" ry="0.6" fill="#e86060"/><rect x="578.0" y="321.4" width="4.5" height="4.2" fill="#8c96dc"/><ellipse cx="575.5" cy="323.2" rx="2.6" ry="1.9" fill="#b8161c"/><ellipse cx="575.8" cy="322.5" rx="1.0" ry="0.6" fill="#e86060"/>
<path d="M500.2,338.1L497.2,340.0M505.5,326.2L504.9,322.7M513.8,329.9L516.8,328.0M508.5,341.8L509.1,345.3M501.7,345.9L499.9,350.0M512.3,322.1L514.1,318.0" fill="none" stroke="#4a4a4a" stroke-width="3.7" stroke-linecap="round" stroke-linejoin="round"/><path d="M500.2,338.1L497.2,340.0M505.5,326.2L504.9,322.7M513.8,329.9L516.8,328.0M508.5,341.8L509.1,345.3M501.7,345.9L499.9,350.0M512.3,322.1L514.1,318.0" fill="none" stroke="#c4c4c4" stroke-width="2.4" stroke-linecap="round" stroke-linejoin="round"/><path d="M501.7,345.9L500.2,338.1L505.5,326.2L512.3,322.1L513.8,329.9L508.5,341.8Z" fill="none" stroke="#3a3a3a" stroke-width="4.3" stroke-linecap="round" stroke-linejoin="round"/><path d="M501.7,345.9L500.2,338.1L505.5,326.2L512.3,322.1L513.8,329.9L508.5,341.8Z" fill="none" stroke="#a4a4a4" stroke-width="3.0" stroke-linecap="round" stroke-linejoin="round"/><path d="M501.7,345.9L500.2,338.1L505.5,326.2L512.3,322.1L513.8,329.9L508.5,341.8Z" fill="none" stroke="#ececec" stroke-width="0.9" stroke-linecap="round" stroke-linejoin="round" transform="translate(-0.3,-0.7)"/>
<path d="M545.2,327.1L542.2,329.0M550.5,315.2L549.9,311.7M558.8,318.9L561.8,317.0M553.5,330.8L554.1,334.3M546.7,334.9L544.9,339.0M557.3,311.1L559.1,307.0" fill="none" stroke="#4a4a4a" stroke-width="3.7" stroke-linecap="round" stroke-linejoin="round"/><path d="M545.2,327.1L542.2,329.0M550.5,315.2L549.9,311.7M558.8,318.9L561.8,317.0M553.5,330.8L554.1,334.3M546.7,334.9L544.9,339.0M557.3,311.1L559.1,307.0" fill="none" stroke="#c4c4c4" stroke-width="2.4" stroke-linecap="round" stroke-linejoin="round"/><path d="M546.7,334.9L545.2,327.1L550.5,315.2L557.3,311.1L558.8,318.9L553.5,330.8Z" fill="none" stroke="#3a3a3a" stroke-width="4.3" stroke-linecap="round" stroke-linejoin="round"/><path d="M546.7,334.9L545.2,327.1L550.5,315.2L557.3,311.1L558.8,318.9L553.5,330.8Z" fill="none" stroke="#a4a4a4" stroke-width="3.0" stroke-linecap="round" stroke-linejoin="round"/><path d="M546.7,334.9L545.2,327.1L550.5,315.2L557.3,311.1L558.8,318.9L553.5,330.8Z" fill="none" stroke="#ececec" stroke-width="0.9" stroke-linecap="round" stroke-linejoin="round" transform="translate(-0.3,-0.7)"/>
<path d="M501.0,348.0 L605.5,348.0" stroke="#3c3c3c" stroke-width="6.8" stroke-linecap="round" fill="none"/><path d="M501.0,346.7 L605.5,346.7" stroke="#b0b0b0" stroke-width="2.23" fill="none"/><path d="M501.0,349.3 L605.5,349.3" stroke="#8c8c8c" stroke-width="1.98" fill="none"/><path d="M502.0,346.2 L604.5,346.2" stroke="#e8e8e8" stroke-width="0.9" fill="none"/><path d="M501.0,348.0 L497.0,348.0 M497.0,348.0 L493.3,343.2 M497.0,348.0 L493.6,353.0 M497.0,348.0 L492.2,348.4" fill="none" stroke="#4a4a4a" stroke-width="3.5999999999999996" stroke-linecap="round" stroke-linejoin="round"/><path d="M501.0,348.0 L497.0,348.0 M497.0,348.0 L493.3,343.2 M497.0,348.0 L493.6,353.0 M497.0,348.0 L492.2,348.4" fill="none" stroke="#cdcdcd" stroke-width="2.3" stroke-linecap="round" stroke-linejoin="round"/><path d="M501.0,348.0 L497.0,348.0 M497.0,348.0 L493.3,343.2 M497.0,348.0 L493.6,353.0 M497.0,348.0 L492.2,348.4" fill="none" stroke="#f6f6f6" stroke-width="0.8" stroke-linecap="round" stroke-linejoin="round" transform="translate(-0.3,-0.7)"/><path d="M605.5,348.0 L609.5,348.0 M609.5,348.0 L613.2,343.2 M609.5,348.0 L612.9,353.0 M609.5,348.0 L614.3,348.4" fill="none" stroke="#4a4a4a" stroke-width="3.5999999999999996" stroke-linecap="round" stroke-linejoin="round"/><path d="M605.5,348.0 L609.5,348.0 M609.5,348.0 L613.2,343.2 M609.5,348.0 L612.9,353.0 M609.5,348.0 L614.3,348.4" fill="none" stroke="#cdcdcd" stroke-width="2.3" stroke-linecap="round" stroke-linejoin="round"/><path d="M605.5,348.0 L609.5,348.0 M609.5,348.0 L613.2,343.2 M609.5,348.0 L612.9,353.0 M609.5,348.0 L614.3,348.4" fill="none" stroke="#f6f6f6" stroke-width="0.8" stroke-linecap="round" stroke-linejoin="round" transform="translate(-0.3,-0.7)"/><rect x="501.0" y="345.6" width="4.5" height="4.2" fill="#8c96dc"/><ellipse cx="508.0" cy="347.4" rx="2.6" ry="1.9" fill="#b8161c"/><ellipse cx="507.7" cy="346.7" rx="1.0" ry="0.6" fill="#e86060"/><rect x="601.0" y="345.6" width="4.5" height="4.2" fill="#8c96dc"/><ellipse cx="598.5" cy="347.4" rx="2.6" ry="1.9" fill="#b8161c"/><ellipse cx="598.8" cy="346.7" rx="1.0" ry="0.6" fill="#e86060"/>
<path d="M526.2,356.6L523.2,358.5M531.5,344.7L530.9,341.2M539.8,348.4L542.8,346.5M534.5,360.3L535.1,363.8M527.7,364.4L525.9,368.5M538.3,340.6L540.1,336.5" fill="none" stroke="#4a4a4a" stroke-width="3.7" stroke-linecap="round" stroke-linejoin="round"/><path d="M526.2,356.6L523.2,358.5M531.5,344.7L530.9,341.2M539.8,348.4L542.8,346.5M534.5,360.3L535.1,363.8M527.7,364.4L525.9,368.5M538.3,340.6L540.1,336.5" fill="none" stroke="#c4c4c4" stroke-width="2.4" stroke-linecap="round" stroke-linejoin="round"/><path d="M527.7,364.4L526.2,356.6L531.5,344.7L538.3,340.6L539.8,348.4L534.5,360.3Z" fill="none" stroke="#3a3a3a" stroke-width="4.3" stroke-linecap="round" stroke-linejoin="round"/><path d="M527.7,364.4L526.2,356.6L531.5,344.7L538.3,340.6L539.8,348.4L534.5,360.3Z" fill="none" stroke="#a4a4a4" stroke-width="3.0" stroke-linecap="round" stroke-linejoin="round"/><path d="M527.7,364.4L526.2,356.6L531.5,344.7L538.3,340.6L539.8,348.4L534.5,360.3Z" fill="none" stroke="#ececec" stroke-width="0.9" stroke-linecap="round" stroke-linejoin="round" transform="translate(-0.3,-0.7)"/>
<path d="M564.2,349.1L561.2,351.0M569.5,337.2L568.9,333.7M577.8,340.9L580.8,339.0M572.5,352.8L573.1,356.3M565.7,356.9L563.9,361.0M576.3,333.1L578.1,329.0" fill="none" stroke="#4a4a4a" stroke-width="3.7" stroke-linecap="round" stroke-linejoin="round"/><path d="M564.2,349.1L561.2,351.0M569.5,337.2L568.9,333.7M577.8,340.9L580.8,339.0M572.5,352.8L573.1,356.3M565.7,356.9L563.9,361.0M576.3,333.1L578.1,329.0" fill="none" stroke="#c4c4c4" stroke-width="2.4" stroke-linecap="round" stroke-linejoin="round"/><path d="M565.7,356.9L564.2,349.1L569.5,337.2L576.3,333.1L577.8,340.9L572.5,352.8Z" fill="none" stroke="#3a3a3a" stroke-width="4.3" stroke-linecap="round" stroke-linejoin="round"/><path d="M565.7,356.9L564.2,349.1L569.5,337.2L576.3,333.1L577.8,340.9L572.5,352.8Z" fill="none" stroke="#a4a4a4" stroke-width="3.0" stroke-linecap="round" stroke-linejoin="round"/><path d="M565.7,356.9L564.2,349.1L569.5,337.2L576.3,333.1L577.8,340.9L572.5,352.8Z" fill="none" stroke="#ececec" stroke-width="0.9" stroke-linecap="round" stroke-linejoin="round" transform="translate(-0.3,-0.7)"/>
<path d="M524.0,371.5 L628.0,371.5" stroke="#3c3c3c" stroke-width="7.6" stroke-linecap="round" fill="none"/><path d="M524.0,370.2 L628.0,370.2" stroke="#b0b0b0" stroke-width="2.52" fill="none"/><path d="M524.0,372.8 L628.0,372.8" stroke="#8c8c8c" stroke-width="2.24" fill="none"/><path d="M525.0,369.7 L627.0,369.7" stroke="#e8e8e8" stroke-width="0.9" fill="none"/><path d="M521,371.8 L585,371.8" stroke="#3c3c3c" stroke-width="9.1" stroke-linecap="butt" fill="none"/><path d="M521,369.6 L585,369.6" stroke="#b4b4b4" stroke-width="2.2" fill="none"/><path d="M521,371.8 L585,371.8" stroke="#9a9a9a" stroke-width="1.6" fill="none"/><path d="M521,374.1 L585,374.1" stroke="#8a8a8a" stroke-width="2" fill="none"/><path d="M522,368.9 L584,368.9" stroke="#ececec" stroke-width="0.8" fill="none"/><path d="M524.0,371.5 L520.0,371.5 M520.0,371.5 L516.3,366.7 M520.0,371.5 L516.6,376.5 M520.0,371.5 L515.2,371.9" fill="none" stroke="#4a4a4a" stroke-width="3.5999999999999996" stroke-linecap="round" stroke-linejoin="round"/><path d="M524.0,371.5 L520.0,371.5 M520.0,371.5 L516.3,366.7 M520.0,371.5 L516.6,376.5 M520.0,371.5 L515.2,371.9" fill="none" stroke="#cdcdcd" stroke-width="2.3" stroke-linecap="round" stroke-linejoin="round"/><path d="M524.0,371.5 L520.0,371.5 M520.0,371.5 L516.3,366.7 M520.0,371.5 L516.6,376.5 M520.0,371.5 L515.2,371.9" fill="none" stroke="#f6f6f6" stroke-width="0.8" stroke-linecap="round" stroke-linejoin="round" transform="translate(-0.3,-0.7)"/><path d="M628.0,371.5 L632.0,371.5 M632.0,371.5 L635.7,366.7 M632.0,371.5 L635.4,376.5 M632.0,371.5 L636.8,371.9" fill="none" stroke="#4a4a4a" stroke-width="3.5999999999999996" stroke-linecap="round" stroke-linejoin="round"/><path d="M628.0,371.5 L632.0,371.5 M632.0,371.5 L635.7,366.7 M632.0,371.5 L635.4,376.5 M632.0,371.5 L636.8,371.9" fill="none" stroke="#cdcdcd" stroke-width="2.3" stroke-linecap="round" stroke-linejoin="round"/><path d="M628.0,371.5 L632.0,371.5 M632.0,371.5 L635.7,366.7 M632.0,371.5 L635.4,376.5 M632.0,371.5 L636.8,371.9" fill="none" stroke="#f6f6f6" stroke-width="0.8" stroke-linecap="round" stroke-linejoin="round" transform="translate(-0.3,-0.7)"/><rect x="524.0" y="369.1" width="4.5" height="4.2" fill="#8c96dc"/><ellipse cx="531.0" cy="370.9" rx="2.6" ry="1.9" fill="#b8161c"/><ellipse cx="530.7" cy="370.2" rx="1.0" ry="0.6" fill="#e86060"/><rect x="623.5" y="369.1" width="4.5" height="4.2" fill="#8c96dc"/><ellipse cx="621.0" cy="370.9" rx="2.6" ry="1.9" fill="#b8161c"/><ellipse cx="621.3" cy="370.2" rx="1.0" ry="0.6" fill="#e86060"/>
<path d="M545.3,379.9L542.1,381.6M549.4,370.8L548.5,367.3M556.7,374.1L559.9,372.4M552.6,383.2L553.5,386.7M546.9,386.1L545.1,390.2M555.1,367.9L556.9,363.8" fill="none" stroke="#4a4a4a" stroke-width="3.7" stroke-linecap="round" stroke-linejoin="round"/><path d="M545.3,379.9L542.1,381.6M549.4,370.8L548.5,367.3M556.7,374.1L559.9,372.4M552.6,383.2L553.5,386.7M546.9,386.1L545.1,390.2M555.1,367.9L556.9,363.8" fill="none" stroke="#c4c4c4" stroke-width="2.4" stroke-linecap="round" stroke-linejoin="round"/><path d="M546.9,386.1L545.3,379.9L549.4,370.8L555.1,367.9L556.7,374.1L552.6,383.2Z" fill="none" stroke="#3a3a3a" stroke-width="4.3" stroke-linecap="round" stroke-linejoin="round"/><path d="M546.9,386.1L545.3,379.9L549.4,370.8L555.1,367.9L556.7,374.1L552.6,383.2Z" fill="none" stroke="#a4a4a4" stroke-width="3.0" stroke-linecap="round" stroke-linejoin="round"/><path d="M546.9,386.1L545.3,379.9L549.4,370.8L555.1,367.9L556.7,374.1L552.6,383.2Z" fill="none" stroke="#ececec" stroke-width="0.9" stroke-linecap="round" stroke-linejoin="round" transform="translate(-0.3,-0.7)"/>
<path d="M594.2,375.1L591.2,377.0M599.5,363.2L598.9,359.7M607.8,366.9L610.8,365.0M602.5,378.8L603.1,382.3M595.7,382.9L593.9,387.0M606.3,359.1L608.1,355.0" fill="none" stroke="#4a4a4a" stroke-width="3.7" stroke-linecap="round" stroke-linejoin="round"/><path d="M594.2,375.1L591.2,377.0M599.5,363.2L598.9,359.7M607.8,366.9L610.8,365.0M602.5,378.8L603.1,382.3M595.7,382.9L593.9,387.0M606.3,359.1L608.1,355.0" fill="none" stroke="#c4c4c4" stroke-width="2.4" stroke-linecap="round" stroke-linejoin="round"/><path d="M595.7,382.9L594.2,375.1L599.5,363.2L606.3,359.1L607.8,366.9L602.5,378.8Z" fill="none" stroke="#3a3a3a" stroke-width="4.3" stroke-linecap="round" stroke-linejoin="round"/><path d="M595.7,382.9L594.2,375.1L599.5,363.2L606.3,359.1L607.8,366.9L602.5,378.8Z" fill="none" stroke="#a4a4a4" stroke-width="3.0" stroke-linecap="round" stroke-linejoin="round"/><path d="M595.7,382.9L594.2,375.1L599.5,363.2L606.3,359.1L607.8,366.9L602.5,378.8Z" fill="none" stroke="#ececec" stroke-width="0.9" stroke-linecap="round" stroke-linejoin="round" transform="translate(-0.3,-0.7)"/>
<path d="M499.3,277.0L495.0,285.0" fill="none" stroke="#444" stroke-width="3.8" stroke-linecap="round" stroke-linejoin="round"/><path d="M499.3,277.0L495.0,285.0" fill="none" stroke="#b4b4b4" stroke-width="2.5" stroke-linecap="round" stroke-linejoin="round"/><path d="M499.3,277.0L495.0,285.0" fill="none" stroke="#eee" stroke-width="0.7" stroke-linecap="round" stroke-linejoin="round" transform="translate(-0.3,-0.7)"/>
<path d="M521.4,305.2L512.6,322.8" fill="none" stroke="#444" stroke-width="3.8" stroke-linecap="round" stroke-linejoin="round"/><path d="M521.4,305.2L512.6,322.8" fill="none" stroke="#b4b4b4" stroke-width="2.5" stroke-linecap="round" stroke-linejoin="round"/><path d="M521.4,305.2L512.6,322.8" fill="none" stroke="#eee" stroke-width="0.7" stroke-linecap="round" stroke-linejoin="round" transform="translate(-0.3,-0.7)"/>
<path d="M545.2,333.5L539.8,342.0" fill="none" stroke="#444" stroke-width="3.8" stroke-linecap="round" stroke-linejoin="round"/><path d="M545.2,333.5L539.8,342.0" fill="none" stroke="#b4b4b4" stroke-width="2.5" stroke-linecap="round" stroke-linejoin="round"/><path d="M545.2,333.5L539.8,342.0" fill="none" stroke="#eee" stroke-width="0.7" stroke-linecap="round" stroke-linejoin="round" transform="translate(-0.3,-0.7)"/>
<path d="M564.4,355.6L557.6,366.4" fill="none" stroke="#444" stroke-width="3.8" stroke-linecap="round" stroke-linejoin="round"/><path d="M564.4,355.6L557.6,366.4" fill="none" stroke="#b4b4b4" stroke-width="2.5" stroke-linecap="round" stroke-linejoin="round"/><path d="M564.4,355.6L557.6,366.4" fill="none" stroke="#eee" stroke-width="0.7" stroke-linecap="round" stroke-linejoin="round" transform="translate(-0.3,-0.7)"/>
<ellipse cx="476.2" cy="279.3" rx="2.1" ry="1.4" fill="#b8141c"/>
<ellipse cx="492.3" cy="274.5" rx="2.1" ry="1.4" fill="#b8141c"/>
<ellipse cx="498.7" cy="296.2" rx="2.1" ry="1.4" fill="#b8141c"/>
<ellipse cx="550.2" cy="300" rx="2.1" ry="1.4" fill="#b8141c"/>
<ellipse cx="587.9" cy="370.3" rx="2.1" ry="1.4" fill="#b8141c"/>
<ellipse cx="565.4" cy="367.3" rx="2.1" ry="1.4" fill="#b8141c"/>
<line x1="452.2" y1="237.4" x2="507.7" y2="299.6" stroke="#111" stroke-width="1.5"/>
<line x1="421.6" y1="299.6" x2="508.7" y2="299.6" stroke="#111" stroke-width="1.5"/>
<line x1="569.6" y1="299.4" x2="582" y2="299.4" stroke="#111" stroke-width="1.3"/>
<line x1="547.2" y1="276.3" x2="633" y2="276.3" stroke="#111" stroke-width="1.3"/>
<line x1="575.8" y1="282.8" x2="575.8" y2="291.7" stroke="#4cc3ee" stroke-width="1.1"/><path d="M575.8,279.3 L573.5999999999999,282.8 L578.0,282.8Z" fill="#4cc3ee"/><path d="M575.8,295.2 L573.5999999999999,291.7 L578.0,291.7Z" fill="#4cc3ee"/>
<line x1="627.2" y1="281.0" x2="627.2" y2="357.5" stroke="#4cc3ee" stroke-width="1.1"/><path d="M627.2,277.5 L625.0,281.0 L629.4000000000001,281.0Z" fill="#4cc3ee"/><path d="M627.2,361 L625.0,357.5 L629.4000000000001,357.5Z" fill="#4cc3ee"/>
<line x1="458.7" y1="331.8" x2="458.7" y2="364.8" stroke="#4cc3ee" stroke-width="1.1"/><path d="M458.7,328.3 L456.5,331.8 L460.9,331.8Z" fill="#4cc3ee"/><path d="M458.7,368.3 L456.5,364.8 L460.9,364.8Z" fill="#4cc3ee"/>
<line x1="485.5" y1="358.0" x2="485.5" y2="366.2" stroke="#f0606a" stroke-width="1.1"/><path d="M485.5,354.5 L483.3,358.0 L487.7,358.0Z" fill="#f0606a"/><path d="M485.5,369.7 L483.3,366.2 L487.7,366.2Z" fill="#f0606a"/>
<text x="585.6" y="288.2" font-size="8.3" fill="#222"><tspan font-style="italic">J</tspan><tspan font-size="5.5" dy="0.9">Coul (close)</tspan></text>
<text x="585.8" y="297.2" font-size="8.3" fill="#222">473 cm<tspan font-size="5" dy="-3.2">−1</tspan></text>
<text x="636.2" y="288.2" font-size="8.3" fill="#222"><tspan font-style="italic">J</tspan><tspan font-size="5.5" dy="0.9">Coul (5 units)</tspan></text>
<text x="636.2" y="298.2" font-size="8.3" fill="#222">−2.55 cm<tspan font-size="5" dy="-3.2">−1</tspan></text>
<text x="394.6" y="318.9" font-size="8.3" fill="#222">4.47−4.53 Å</text>
<path d="M411.8,325.2 L411.8,331.6 M410.4,326.6 L411.8,324.8 L413.2,326.6 M410.4,330.2 L411.8,332 L413.2,330.2" fill="none" stroke="#222" stroke-width="0.8"/>
<text x="416" y="331.6" font-size="8.3" fill="#222">3.29 Å</text>
<text x="482" y="395.2" font-size="8.3" fill="#222"><tspan font-style="italic">J</tspan><tspan font-size="5.5" dy="0.9">CT(close)</tspan></text>
<text x="482" y="404.3" font-size="8.3" fill="#222">−456 cm<tspan font-size="5" dy="-3.2">−1</tspan></text>
<text x="457.3" y="416.5" font-size="8.3" fill="#222"><tspan font-style="italic">J</tspan><tspan font-size="5.5" dy="0.9">Coul (3 units)</tspan></text>
<text x="457.3" y="426.4" font-size="8.3" fill="#222">−85.3 cm<tspan font-size="5" dy="-3.2">−1</tspan></text>
<text x="584" y="412.6" font-size="8.3" fill="#222">3.03 Å</text>
<path d="M562.4,404.4 L562.4,412.4 M574,404.4 L574,412.4 M564.2,408.4 L572.2,408.4 M565.6,407.2 L564,408.4 L565.6,409.6 M570.6,407.2 L572.2,408.4 L570.6,409.6" fill="none" stroke="#222" stroke-width="0.8"/>
<line x1="450.5" y1="308" x2="466.5" y2="323.8" stroke="#111" stroke-width="1.1"/>
<path d="M448.5,305.9 L453.8,307.4 L450,311.2Z" fill="#111"/>
<path d="M468.4,325.8 L463.1,324.3 L466.9,320.5Z" fill="#111"/>
<path d="M464.2,324.6 L449,324.6 L449,372.5 L464.2,372.5" fill="none" stroke="#111" stroke-width="1.4"/>
<path d="M449,347 L441.5,347 L441.5,417.2 L449,417.2" fill="none" stroke="#111" stroke-width="1.4"/>
<path d="M486.3,349 L478,349 L478,372.5 L515.3,372.5" fill="none" stroke="#111" stroke-width="1.4"/>
<path d="M478,361.4 L470.3,361.4 L470.3,396 L475.2,396" fill="none" stroke="#111" stroke-width="1.4"/>
<path d="M632.4,312.8 L641.8,312.8 L641.8,390.9 L632.4,390.9" fill="none" stroke="#333" stroke-width="1.1"/>
<line x1="553" y1="349.8" x2="553" y2="398" stroke="#111" stroke-width="1.3"/>
<line x1="583.3" y1="373.9" x2="583.3" y2="398" stroke="#111" stroke-width="1.3"/>
</svg></body></html>
